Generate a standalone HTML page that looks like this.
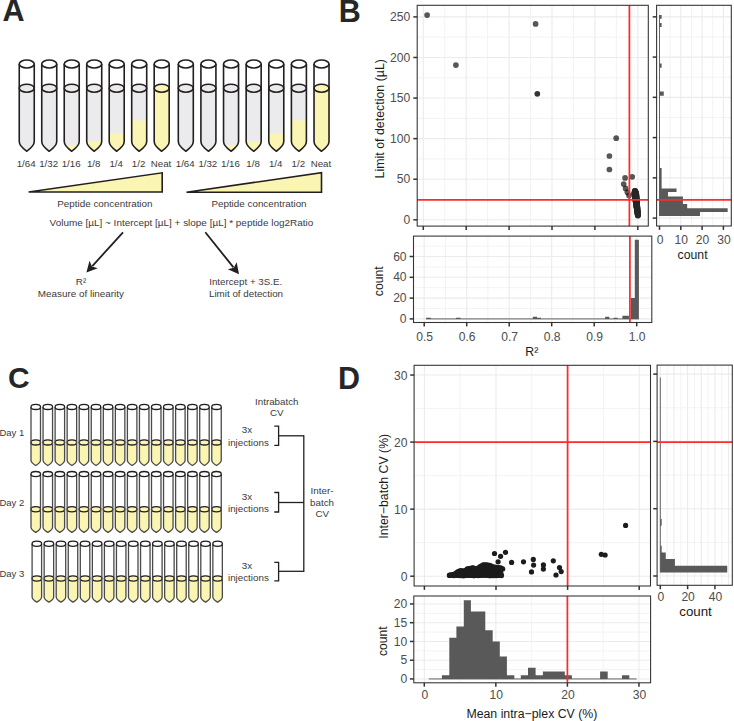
<!DOCTYPE html>
<html><head><meta charset="utf-8"><style>
html,body{margin:0;padding:0;background:#fff;overflow:hidden;}
svg{display:block;font-family:"Liberation Sans", sans-serif;}
</style></head><body>
<svg width="734" height="721" viewBox="0 0 734 721">
<text x="2.40" y="21.20" font-size="30.5" fill="#262626" text-anchor="start" font-weight="bold" >A</text>
<text x="338.80" y="22.20" font-size="30.5" fill="#262626" text-anchor="start" font-weight="bold" >B</text>
<text x="7.90" y="388.10" font-size="30.0" fill="#262626" text-anchor="start" font-weight="bold" >C</text>
<text x="338.10" y="388.50" font-size="30.5" fill="#262626" text-anchor="start" font-weight="bold" >D</text>
<path d="M19.25,64.00 L19.25,141.60 C19.25,145.97 23.38,148.88 26.75,151.30 C30.12,148.88 34.25,145.97 34.25,141.60 L34.25,64.00 Z" fill="#FFFFFF"/>
<path d="M19.25,88.20 L19.25,141.60 C19.25,145.97 23.38,148.88 26.75,151.30 C30.12,148.88 34.25,145.97 34.25,141.60 L34.25,88.20 Z" fill="#EBEBEE"/>
<ellipse cx="26.75" cy="88.20" rx="7.50" ry="4.00" fill="#EBEBEE" stroke="#231F20" stroke-width="1.6"/>
<path d="M19.25,64.00 L19.25,141.60 C19.25,145.97 23.38,148.88 26.75,151.30 C30.12,148.88 34.25,145.97 34.25,141.60 L34.25,64.00" fill="none" stroke="#231F20" stroke-width="1.6" stroke-linejoin="round"/>
<ellipse cx="26.75" cy="64.00" rx="7.50" ry="4.00" fill="#FFFFFF" stroke="#231F20" stroke-width="1.6"/>
<text x="26.15" y="166.80" font-size="9.7" fill="#3a3a3a" text-anchor="middle" font-weight="normal" >1/64</text>
<path d="M41.74,64.00 L41.74,141.60 C41.74,145.97 45.86,148.88 49.24,151.30 C52.61,148.88 56.74,145.97 56.74,141.60 L56.74,64.00 Z" fill="#FFFFFF"/>
<path d="M41.74,88.20 L41.74,141.60 C41.74,145.97 45.86,148.88 49.24,151.30 C52.61,148.88 56.74,145.97 56.74,141.60 L56.74,88.20 Z" fill="#EBEBEE"/>
<clipPath id="c12"><path d="M41.74,88.20 L41.74,141.60 C41.74,145.97 45.86,148.88 49.24,151.30 C52.61,148.88 56.74,145.97 56.74,141.60 L56.74,88.20 Z"/></clipPath>
<path d="M40.74,147.00 Q49.24,150.20 57.74,147.00 L57.74,152.30 L40.74,152.30 Z" fill="#FAF5B2" clip-path="url(#c12)"/>
<ellipse cx="49.24" cy="88.20" rx="7.50" ry="4.00" fill="#EBEBEE" stroke="#231F20" stroke-width="1.6"/>
<path d="M41.74,64.00 L41.74,141.60 C41.74,145.97 45.86,148.88 49.24,151.30 C52.61,148.88 56.74,145.97 56.74,141.60 L56.74,64.00" fill="none" stroke="#231F20" stroke-width="1.6" stroke-linejoin="round"/>
<ellipse cx="49.24" cy="64.00" rx="7.50" ry="4.00" fill="#FFFFFF" stroke="#231F20" stroke-width="1.6"/>
<text x="48.64" y="166.80" font-size="9.7" fill="#3a3a3a" text-anchor="middle" font-weight="normal" >1/32</text>
<path d="M64.23,64.00 L64.23,141.60 C64.23,145.97 68.35,148.88 71.73,151.30 C75.10,148.88 79.23,145.97 79.23,141.60 L79.23,64.00 Z" fill="#FFFFFF"/>
<path d="M64.23,88.20 L64.23,141.60 C64.23,145.97 68.35,148.88 71.73,151.30 C75.10,148.88 79.23,145.97 79.23,141.60 L79.23,88.20 Z" fill="#EBEBEE"/>
<clipPath id="c20"><path d="M64.23,88.20 L64.23,141.60 C64.23,145.97 68.35,148.88 71.73,151.30 C75.10,148.88 79.23,145.97 79.23,141.60 L79.23,88.20 Z"/></clipPath>
<path d="M63.23,143.60 Q71.73,146.80 80.23,143.60 L80.23,152.30 L63.23,152.30 Z" fill="#FAF5B2" clip-path="url(#c20)"/>
<ellipse cx="71.73" cy="88.20" rx="7.50" ry="4.00" fill="#EBEBEE" stroke="#231F20" stroke-width="1.6"/>
<path d="M64.23,64.00 L64.23,141.60 C64.23,145.97 68.35,148.88 71.73,151.30 C75.10,148.88 79.23,145.97 79.23,141.60 L79.23,64.00" fill="none" stroke="#231F20" stroke-width="1.6" stroke-linejoin="round"/>
<ellipse cx="71.73" cy="64.00" rx="7.50" ry="4.00" fill="#FFFFFF" stroke="#231F20" stroke-width="1.6"/>
<text x="71.13" y="166.80" font-size="9.7" fill="#3a3a3a" text-anchor="middle" font-weight="normal" >1/16</text>
<path d="M86.72,64.00 L86.72,141.60 C86.72,145.97 90.84,148.88 94.22,151.30 C97.59,148.88 101.72,145.97 101.72,141.60 L101.72,64.00 Z" fill="#FFFFFF"/>
<path d="M86.72,88.20 L86.72,141.60 C86.72,145.97 90.84,148.88 94.22,151.30 C97.59,148.88 101.72,145.97 101.72,141.60 L101.72,88.20 Z" fill="#EBEBEE"/>
<clipPath id="c28"><path d="M86.72,88.20 L86.72,141.60 C86.72,145.97 90.84,148.88 94.22,151.30 C97.59,148.88 101.72,145.97 101.72,141.60 L101.72,88.20 Z"/></clipPath>
<path d="M85.72,140.20 Q94.22,143.40 102.72,140.20 L102.72,152.30 L85.72,152.30 Z" fill="#FAF5B2" clip-path="url(#c28)"/>
<ellipse cx="94.22" cy="88.20" rx="7.50" ry="4.00" fill="#EBEBEE" stroke="#231F20" stroke-width="1.6"/>
<path d="M86.72,64.00 L86.72,141.60 C86.72,145.97 90.84,148.88 94.22,151.30 C97.59,148.88 101.72,145.97 101.72,141.60 L101.72,64.00" fill="none" stroke="#231F20" stroke-width="1.6" stroke-linejoin="round"/>
<ellipse cx="94.22" cy="64.00" rx="7.50" ry="4.00" fill="#FFFFFF" stroke="#231F20" stroke-width="1.6"/>
<text x="93.62" y="166.80" font-size="9.7" fill="#3a3a3a" text-anchor="middle" font-weight="normal" >1/8</text>
<path d="M109.21,64.00 L109.21,141.60 C109.21,145.97 113.33,148.88 116.71,151.30 C120.08,148.88 124.21,145.97 124.21,141.60 L124.21,64.00 Z" fill="#FFFFFF"/>
<path d="M109.21,88.20 L109.21,141.60 C109.21,145.97 113.33,148.88 116.71,151.30 C120.08,148.88 124.21,145.97 124.21,141.60 L124.21,88.20 Z" fill="#EBEBEE"/>
<clipPath id="c36"><path d="M109.21,88.20 L109.21,141.60 C109.21,145.97 113.33,148.88 116.71,151.30 C120.08,148.88 124.21,145.97 124.21,141.60 L124.21,88.20 Z"/></clipPath>
<path d="M108.21,132.40 Q116.71,135.60 125.21,132.40 L125.21,152.30 L108.21,152.30 Z" fill="#FAF5B2" clip-path="url(#c36)"/>
<ellipse cx="116.71" cy="88.20" rx="7.50" ry="4.00" fill="#EBEBEE" stroke="#231F20" stroke-width="1.6"/>
<path d="M109.21,64.00 L109.21,141.60 C109.21,145.97 113.33,148.88 116.71,151.30 C120.08,148.88 124.21,145.97 124.21,141.60 L124.21,64.00" fill="none" stroke="#231F20" stroke-width="1.6" stroke-linejoin="round"/>
<ellipse cx="116.71" cy="64.00" rx="7.50" ry="4.00" fill="#FFFFFF" stroke="#231F20" stroke-width="1.6"/>
<text x="116.11" y="166.80" font-size="9.7" fill="#3a3a3a" text-anchor="middle" font-weight="normal" >1/4</text>
<path d="M131.70,64.00 L131.70,141.60 C131.70,145.97 135.82,148.88 139.20,151.30 C142.57,148.88 146.70,145.97 146.70,141.60 L146.70,64.00 Z" fill="#FFFFFF"/>
<path d="M131.70,88.20 L131.70,141.60 C131.70,145.97 135.82,148.88 139.20,151.30 C142.57,148.88 146.70,145.97 146.70,141.60 L146.70,88.20 Z" fill="#EBEBEE"/>
<clipPath id="c44"><path d="M131.70,88.20 L131.70,141.60 C131.70,145.97 135.82,148.88 139.20,151.30 C142.57,148.88 146.70,145.97 146.70,141.60 L146.70,88.20 Z"/></clipPath>
<path d="M130.70,119.20 Q139.20,122.40 147.70,119.20 L147.70,152.30 L130.70,152.30 Z" fill="#FAF5B2" clip-path="url(#c44)"/>
<ellipse cx="139.20" cy="88.20" rx="7.50" ry="4.00" fill="#EBEBEE" stroke="#231F20" stroke-width="1.6"/>
<path d="M131.70,64.00 L131.70,141.60 C131.70,145.97 135.82,148.88 139.20,151.30 C142.57,148.88 146.70,145.97 146.70,141.60 L146.70,64.00" fill="none" stroke="#231F20" stroke-width="1.6" stroke-linejoin="round"/>
<ellipse cx="139.20" cy="64.00" rx="7.50" ry="4.00" fill="#FFFFFF" stroke="#231F20" stroke-width="1.6"/>
<text x="138.60" y="166.80" font-size="9.7" fill="#3a3a3a" text-anchor="middle" font-weight="normal" >1/2</text>
<path d="M154.19,64.00 L154.19,141.60 C154.19,145.97 158.31,148.88 161.69,151.30 C165.06,148.88 169.19,145.97 169.19,141.60 L169.19,64.00 Z" fill="#FFFFFF"/>
<path d="M154.19,88.20 L154.19,141.60 C154.19,145.97 158.31,148.88 161.69,151.30 C165.06,148.88 169.19,145.97 169.19,141.60 L169.19,88.20 Z" fill="#FAF5B2"/>
<ellipse cx="161.69" cy="88.20" rx="7.50" ry="4.00" fill="#FAF5B2" stroke="#231F20" stroke-width="1.6"/>
<path d="M154.19,64.00 L154.19,141.60 C154.19,145.97 158.31,148.88 161.69,151.30 C165.06,148.88 169.19,145.97 169.19,141.60 L169.19,64.00" fill="none" stroke="#231F20" stroke-width="1.6" stroke-linejoin="round"/>
<ellipse cx="161.69" cy="64.00" rx="7.50" ry="4.00" fill="#FFFFFF" stroke="#231F20" stroke-width="1.6"/>
<text x="161.09" y="166.80" font-size="9.7" fill="#3a3a3a" text-anchor="middle" font-weight="normal" >Neat</text>
<path d="M178.30,64.00 L178.30,141.60 C178.30,145.97 182.43,148.88 185.80,151.30 C189.18,148.88 193.30,145.97 193.30,141.60 L193.30,64.00 Z" fill="#FFFFFF"/>
<path d="M178.30,88.20 L178.30,141.60 C178.30,145.97 182.43,148.88 185.80,151.30 C189.18,148.88 193.30,145.97 193.30,141.60 L193.30,88.20 Z" fill="#EBEBEE"/>
<ellipse cx="185.80" cy="88.20" rx="7.50" ry="4.00" fill="#EBEBEE" stroke="#231F20" stroke-width="1.6"/>
<path d="M178.30,64.00 L178.30,141.60 C178.30,145.97 182.43,148.88 185.80,151.30 C189.18,148.88 193.30,145.97 193.30,141.60 L193.30,64.00" fill="none" stroke="#231F20" stroke-width="1.6" stroke-linejoin="round"/>
<ellipse cx="185.80" cy="64.00" rx="7.50" ry="4.00" fill="#FFFFFF" stroke="#231F20" stroke-width="1.6"/>
<text x="185.20" y="166.80" font-size="9.7" fill="#3a3a3a" text-anchor="middle" font-weight="normal" >1/64</text>
<path d="M200.92,64.00 L200.92,141.60 C200.92,145.97 205.05,148.88 208.42,151.30 C211.80,148.88 215.92,145.97 215.92,141.60 L215.92,64.00 Z" fill="#FFFFFF"/>
<path d="M200.92,88.20 L200.92,141.60 C200.92,145.97 205.05,148.88 208.42,151.30 C211.80,148.88 215.92,145.97 215.92,141.60 L215.92,88.20 Z" fill="#EBEBEE"/>
<clipPath id="c64"><path d="M200.92,88.20 L200.92,141.60 C200.92,145.97 205.05,148.88 208.42,151.30 C211.80,148.88 215.92,145.97 215.92,141.60 L215.92,88.20 Z"/></clipPath>
<path d="M199.92,147.00 Q208.42,150.20 216.92,147.00 L216.92,152.30 L199.92,152.30 Z" fill="#FAF5B2" clip-path="url(#c64)"/>
<ellipse cx="208.42" cy="88.20" rx="7.50" ry="4.00" fill="#EBEBEE" stroke="#231F20" stroke-width="1.6"/>
<path d="M200.92,64.00 L200.92,141.60 C200.92,145.97 205.05,148.88 208.42,151.30 C211.80,148.88 215.92,145.97 215.92,141.60 L215.92,64.00" fill="none" stroke="#231F20" stroke-width="1.6" stroke-linejoin="round"/>
<ellipse cx="208.42" cy="64.00" rx="7.50" ry="4.00" fill="#FFFFFF" stroke="#231F20" stroke-width="1.6"/>
<text x="207.82" y="166.80" font-size="9.7" fill="#3a3a3a" text-anchor="middle" font-weight="normal" >1/32</text>
<path d="M223.54,64.00 L223.54,141.60 C223.54,145.97 227.67,148.88 231.04,151.30 C234.42,148.88 238.54,145.97 238.54,141.60 L238.54,64.00 Z" fill="#FFFFFF"/>
<path d="M223.54,88.20 L223.54,141.60 C223.54,145.97 227.67,148.88 231.04,151.30 C234.42,148.88 238.54,145.97 238.54,141.60 L238.54,88.20 Z" fill="#EBEBEE"/>
<clipPath id="c72"><path d="M223.54,88.20 L223.54,141.60 C223.54,145.97 227.67,148.88 231.04,151.30 C234.42,148.88 238.54,145.97 238.54,141.60 L238.54,88.20 Z"/></clipPath>
<path d="M222.54,143.60 Q231.04,146.80 239.54,143.60 L239.54,152.30 L222.54,152.30 Z" fill="#FAF5B2" clip-path="url(#c72)"/>
<ellipse cx="231.04" cy="88.20" rx="7.50" ry="4.00" fill="#EBEBEE" stroke="#231F20" stroke-width="1.6"/>
<path d="M223.54,64.00 L223.54,141.60 C223.54,145.97 227.67,148.88 231.04,151.30 C234.42,148.88 238.54,145.97 238.54,141.60 L238.54,64.00" fill="none" stroke="#231F20" stroke-width="1.6" stroke-linejoin="round"/>
<ellipse cx="231.04" cy="64.00" rx="7.50" ry="4.00" fill="#FFFFFF" stroke="#231F20" stroke-width="1.6"/>
<text x="230.44" y="166.80" font-size="9.7" fill="#3a3a3a" text-anchor="middle" font-weight="normal" >1/16</text>
<path d="M246.16,64.00 L246.16,141.60 C246.16,145.97 250.29,148.88 253.66,151.30 C257.04,148.88 261.16,145.97 261.16,141.60 L261.16,64.00 Z" fill="#FFFFFF"/>
<path d="M246.16,88.20 L246.16,141.60 C246.16,145.97 250.29,148.88 253.66,151.30 C257.04,148.88 261.16,145.97 261.16,141.60 L261.16,88.20 Z" fill="#EBEBEE"/>
<clipPath id="c80"><path d="M246.16,88.20 L246.16,141.60 C246.16,145.97 250.29,148.88 253.66,151.30 C257.04,148.88 261.16,145.97 261.16,141.60 L261.16,88.20 Z"/></clipPath>
<path d="M245.16,140.20 Q253.66,143.40 262.16,140.20 L262.16,152.30 L245.16,152.30 Z" fill="#FAF5B2" clip-path="url(#c80)"/>
<ellipse cx="253.66" cy="88.20" rx="7.50" ry="4.00" fill="#EBEBEE" stroke="#231F20" stroke-width="1.6"/>
<path d="M246.16,64.00 L246.16,141.60 C246.16,145.97 250.29,148.88 253.66,151.30 C257.04,148.88 261.16,145.97 261.16,141.60 L261.16,64.00" fill="none" stroke="#231F20" stroke-width="1.6" stroke-linejoin="round"/>
<ellipse cx="253.66" cy="64.00" rx="7.50" ry="4.00" fill="#FFFFFF" stroke="#231F20" stroke-width="1.6"/>
<text x="253.06" y="166.80" font-size="9.7" fill="#3a3a3a" text-anchor="middle" font-weight="normal" >1/8</text>
<path d="M268.78,64.00 L268.78,141.60 C268.78,145.97 272.91,148.88 276.28,151.30 C279.66,148.88 283.78,145.97 283.78,141.60 L283.78,64.00 Z" fill="#FFFFFF"/>
<path d="M268.78,88.20 L268.78,141.60 C268.78,145.97 272.91,148.88 276.28,151.30 C279.66,148.88 283.78,145.97 283.78,141.60 L283.78,88.20 Z" fill="#EBEBEE"/>
<clipPath id="c88"><path d="M268.78,88.20 L268.78,141.60 C268.78,145.97 272.91,148.88 276.28,151.30 C279.66,148.88 283.78,145.97 283.78,141.60 L283.78,88.20 Z"/></clipPath>
<path d="M267.78,132.40 Q276.28,135.60 284.78,132.40 L284.78,152.30 L267.78,152.30 Z" fill="#FAF5B2" clip-path="url(#c88)"/>
<ellipse cx="276.28" cy="88.20" rx="7.50" ry="4.00" fill="#EBEBEE" stroke="#231F20" stroke-width="1.6"/>
<path d="M268.78,64.00 L268.78,141.60 C268.78,145.97 272.91,148.88 276.28,151.30 C279.66,148.88 283.78,145.97 283.78,141.60 L283.78,64.00" fill="none" stroke="#231F20" stroke-width="1.6" stroke-linejoin="round"/>
<ellipse cx="276.28" cy="64.00" rx="7.50" ry="4.00" fill="#FFFFFF" stroke="#231F20" stroke-width="1.6"/>
<text x="275.68" y="166.80" font-size="9.7" fill="#3a3a3a" text-anchor="middle" font-weight="normal" >1/4</text>
<path d="M291.40,64.00 L291.40,141.60 C291.40,145.97 295.53,148.88 298.90,151.30 C302.28,148.88 306.40,145.97 306.40,141.60 L306.40,64.00 Z" fill="#FFFFFF"/>
<path d="M291.40,88.20 L291.40,141.60 C291.40,145.97 295.53,148.88 298.90,151.30 C302.28,148.88 306.40,145.97 306.40,141.60 L306.40,88.20 Z" fill="#EBEBEE"/>
<clipPath id="c96"><path d="M291.40,88.20 L291.40,141.60 C291.40,145.97 295.53,148.88 298.90,151.30 C302.28,148.88 306.40,145.97 306.40,141.60 L306.40,88.20 Z"/></clipPath>
<path d="M290.40,119.20 Q298.90,122.40 307.40,119.20 L307.40,152.30 L290.40,152.30 Z" fill="#FAF5B2" clip-path="url(#c96)"/>
<ellipse cx="298.90" cy="88.20" rx="7.50" ry="4.00" fill="#EBEBEE" stroke="#231F20" stroke-width="1.6"/>
<path d="M291.40,64.00 L291.40,141.60 C291.40,145.97 295.53,148.88 298.90,151.30 C302.28,148.88 306.40,145.97 306.40,141.60 L306.40,64.00" fill="none" stroke="#231F20" stroke-width="1.6" stroke-linejoin="round"/>
<ellipse cx="298.90" cy="64.00" rx="7.50" ry="4.00" fill="#FFFFFF" stroke="#231F20" stroke-width="1.6"/>
<text x="298.30" y="166.80" font-size="9.7" fill="#3a3a3a" text-anchor="middle" font-weight="normal" >1/2</text>
<path d="M314.02,64.00 L314.02,141.60 C314.02,145.97 318.14,148.88 321.52,151.30 C324.89,148.88 329.02,145.97 329.02,141.60 L329.02,64.00 Z" fill="#FFFFFF"/>
<path d="M314.02,88.20 L314.02,141.60 C314.02,145.97 318.14,148.88 321.52,151.30 C324.89,148.88 329.02,145.97 329.02,141.60 L329.02,88.20 Z" fill="#FAF5B2"/>
<ellipse cx="321.52" cy="88.20" rx="7.50" ry="4.00" fill="#FAF5B2" stroke="#231F20" stroke-width="1.6"/>
<path d="M314.02,64.00 L314.02,141.60 C314.02,145.97 318.14,148.88 321.52,151.30 C324.89,148.88 329.02,145.97 329.02,141.60 L329.02,64.00" fill="none" stroke="#231F20" stroke-width="1.6" stroke-linejoin="round"/>
<ellipse cx="321.52" cy="64.00" rx="7.50" ry="4.00" fill="#FFFFFF" stroke="#231F20" stroke-width="1.6"/>
<text x="320.92" y="166.80" font-size="9.7" fill="#3a3a3a" text-anchor="middle" font-weight="normal" >Neat</text>
<path d="M28.6,192.0 L162.2,172.8 L162.2,192.0 Z" fill="#FAF5B2" stroke="#231F20" stroke-width="1.6" stroke-linejoin="miter"/>
<path d="M186.5,192.3 L321.5,172.6 L321.5,192.3 Z" fill="#FAF5B2" stroke="#231F20" stroke-width="1.6" stroke-linejoin="miter"/>
<text x="104.90" y="207.30" font-size="9.85" fill="#3a3a3a" text-anchor="middle" font-weight="normal" >Peptide concentration</text>
<text x="259.00" y="207.30" font-size="9.85" fill="#3a3a3a" text-anchor="middle" font-weight="normal" >Peptide concentration</text>
<text x="181.40" y="225.50" font-size="9.95" fill="#3a3a3a" text-anchor="middle" font-weight="normal" >Volume [µL] ~ Intercept [µL] + slope [µL] * peptide log2Ratio</text>
<line x1="123.00" y1="232.30" x2="92.32" y2="266.09" stroke="#231F20" stroke-width="1.8" />
<path d="M86.40,272.60 L89.52,260.84 L91.98,266.46 L97.81,268.37 Z" fill="#231F20"/>
<line x1="205.30" y1="232.30" x2="233.48" y2="267.34" stroke="#231F20" stroke-width="1.8" />
<path d="M239.00,274.20 L227.79,269.36 L233.80,267.73 L236.67,262.21 Z" fill="#231F20"/>
<text x="81.00" y="284.90" font-size="9.9" fill="#3a3a3a" text-anchor="middle" font-weight="normal" >R²</text>
<text x="80.90" y="296.70" font-size="9.9" fill="#3a3a3a" text-anchor="middle" font-weight="normal" >Measure of linearity</text>
<text x="245.70" y="285.30" font-size="9.75" fill="#3a3a3a" text-anchor="middle" font-weight="normal" >Intercept + 3S.E.</text>
<text x="246.00" y="297.00" font-size="9.8" fill="#3a3a3a" text-anchor="middle" font-weight="normal" >Limit of detection</text>
<path d="M31.00,406.90 L31.00,460.20 C31.00,462.58 33.61,464.18 35.75,465.50 C37.89,464.18 40.50,462.58 40.50,460.20 L40.50,406.90 Z" fill="#FFFFFF"/>
<path d="M31.00,442.40 L31.00,460.20 C31.00,462.58 33.61,464.18 35.75,465.50 C37.89,464.18 40.50,462.58 40.50,460.20 L40.50,442.40 Z" fill="#FAF5B2"/>
<ellipse cx="35.75" cy="442.40" rx="4.75" ry="2.60" fill="#FAF5B2" stroke="#231F20" stroke-width="1.3"/>
<path d="M31.00,406.90 L31.00,460.20 C31.00,462.58 33.61,464.18 35.75,465.50 C37.89,464.18 40.50,462.58 40.50,460.20 L40.50,406.90" fill="none" stroke="#4a4a4a" stroke-width="1.3" stroke-linejoin="round"/>
<ellipse cx="35.75" cy="406.90" rx="4.75" ry="2.60" fill="#FFFFFF" stroke="#231F20" stroke-width="1.3"/>
<path d="M43.05,406.90 L43.05,460.20 C43.05,462.58 45.66,464.18 47.80,465.50 C49.94,464.18 52.55,462.58 52.55,460.20 L52.55,406.90 Z" fill="#FFFFFF"/>
<path d="M43.05,442.40 L43.05,460.20 C43.05,462.58 45.66,464.18 47.80,465.50 C49.94,464.18 52.55,462.58 52.55,460.20 L52.55,442.40 Z" fill="#FAF5B2"/>
<ellipse cx="47.80" cy="442.40" rx="4.75" ry="2.60" fill="#FAF5B2" stroke="#231F20" stroke-width="1.3"/>
<path d="M43.05,406.90 L43.05,460.20 C43.05,462.58 45.66,464.18 47.80,465.50 C49.94,464.18 52.55,462.58 52.55,460.20 L52.55,406.90" fill="none" stroke="#4a4a4a" stroke-width="1.3" stroke-linejoin="round"/>
<ellipse cx="47.80" cy="406.90" rx="4.75" ry="2.60" fill="#FFFFFF" stroke="#231F20" stroke-width="1.3"/>
<path d="M55.10,406.90 L55.10,460.20 C55.10,462.58 57.71,464.18 59.85,465.50 C61.99,464.18 64.60,462.58 64.60,460.20 L64.60,406.90 Z" fill="#FFFFFF"/>
<path d="M55.10,442.40 L55.10,460.20 C55.10,462.58 57.71,464.18 59.85,465.50 C61.99,464.18 64.60,462.58 64.60,460.20 L64.60,442.40 Z" fill="#FAF5B2"/>
<ellipse cx="59.85" cy="442.40" rx="4.75" ry="2.60" fill="#FAF5B2" stroke="#231F20" stroke-width="1.3"/>
<path d="M55.10,406.90 L55.10,460.20 C55.10,462.58 57.71,464.18 59.85,465.50 C61.99,464.18 64.60,462.58 64.60,460.20 L64.60,406.90" fill="none" stroke="#4a4a4a" stroke-width="1.3" stroke-linejoin="round"/>
<ellipse cx="59.85" cy="406.90" rx="4.75" ry="2.60" fill="#FFFFFF" stroke="#231F20" stroke-width="1.3"/>
<path d="M67.15,406.90 L67.15,460.20 C67.15,462.58 69.76,464.18 71.90,465.50 C74.04,464.18 76.65,462.58 76.65,460.20 L76.65,406.90 Z" fill="#FFFFFF"/>
<path d="M67.15,442.40 L67.15,460.20 C67.15,462.58 69.76,464.18 71.90,465.50 C74.04,464.18 76.65,462.58 76.65,460.20 L76.65,442.40 Z" fill="#FAF5B2"/>
<ellipse cx="71.90" cy="442.40" rx="4.75" ry="2.60" fill="#FAF5B2" stroke="#231F20" stroke-width="1.3"/>
<path d="M67.15,406.90 L67.15,460.20 C67.15,462.58 69.76,464.18 71.90,465.50 C74.04,464.18 76.65,462.58 76.65,460.20 L76.65,406.90" fill="none" stroke="#4a4a4a" stroke-width="1.3" stroke-linejoin="round"/>
<ellipse cx="71.90" cy="406.90" rx="4.75" ry="2.60" fill="#FFFFFF" stroke="#231F20" stroke-width="1.3"/>
<path d="M79.20,406.90 L79.20,460.20 C79.20,462.58 81.81,464.18 83.95,465.50 C86.09,464.18 88.70,462.58 88.70,460.20 L88.70,406.90 Z" fill="#FFFFFF"/>
<path d="M79.20,442.40 L79.20,460.20 C79.20,462.58 81.81,464.18 83.95,465.50 C86.09,464.18 88.70,462.58 88.70,460.20 L88.70,442.40 Z" fill="#FAF5B2"/>
<ellipse cx="83.95" cy="442.40" rx="4.75" ry="2.60" fill="#FAF5B2" stroke="#231F20" stroke-width="1.3"/>
<path d="M79.20,406.90 L79.20,460.20 C79.20,462.58 81.81,464.18 83.95,465.50 C86.09,464.18 88.70,462.58 88.70,460.20 L88.70,406.90" fill="none" stroke="#4a4a4a" stroke-width="1.3" stroke-linejoin="round"/>
<ellipse cx="83.95" cy="406.90" rx="4.75" ry="2.60" fill="#FFFFFF" stroke="#231F20" stroke-width="1.3"/>
<path d="M91.25,406.90 L91.25,460.20 C91.25,462.58 93.86,464.18 96.00,465.50 C98.14,464.18 100.75,462.58 100.75,460.20 L100.75,406.90 Z" fill="#FFFFFF"/>
<path d="M91.25,442.40 L91.25,460.20 C91.25,462.58 93.86,464.18 96.00,465.50 C98.14,464.18 100.75,462.58 100.75,460.20 L100.75,442.40 Z" fill="#FAF5B2"/>
<ellipse cx="96.00" cy="442.40" rx="4.75" ry="2.60" fill="#FAF5B2" stroke="#231F20" stroke-width="1.3"/>
<path d="M91.25,406.90 L91.25,460.20 C91.25,462.58 93.86,464.18 96.00,465.50 C98.14,464.18 100.75,462.58 100.75,460.20 L100.75,406.90" fill="none" stroke="#4a4a4a" stroke-width="1.3" stroke-linejoin="round"/>
<ellipse cx="96.00" cy="406.90" rx="4.75" ry="2.60" fill="#FFFFFF" stroke="#231F20" stroke-width="1.3"/>
<path d="M103.30,406.90 L103.30,460.20 C103.30,462.58 105.91,464.18 108.05,465.50 C110.19,464.18 112.80,462.58 112.80,460.20 L112.80,406.90 Z" fill="#FFFFFF"/>
<path d="M103.30,442.40 L103.30,460.20 C103.30,462.58 105.91,464.18 108.05,465.50 C110.19,464.18 112.80,462.58 112.80,460.20 L112.80,442.40 Z" fill="#FAF5B2"/>
<ellipse cx="108.05" cy="442.40" rx="4.75" ry="2.60" fill="#FAF5B2" stroke="#231F20" stroke-width="1.3"/>
<path d="M103.30,406.90 L103.30,460.20 C103.30,462.58 105.91,464.18 108.05,465.50 C110.19,464.18 112.80,462.58 112.80,460.20 L112.80,406.90" fill="none" stroke="#4a4a4a" stroke-width="1.3" stroke-linejoin="round"/>
<ellipse cx="108.05" cy="406.90" rx="4.75" ry="2.60" fill="#FFFFFF" stroke="#231F20" stroke-width="1.3"/>
<path d="M115.35,406.90 L115.35,460.20 C115.35,462.58 117.96,464.18 120.10,465.50 C122.24,464.18 124.85,462.58 124.85,460.20 L124.85,406.90 Z" fill="#FFFFFF"/>
<path d="M115.35,442.40 L115.35,460.20 C115.35,462.58 117.96,464.18 120.10,465.50 C122.24,464.18 124.85,462.58 124.85,460.20 L124.85,442.40 Z" fill="#FAF5B2"/>
<ellipse cx="120.10" cy="442.40" rx="4.75" ry="2.60" fill="#FAF5B2" stroke="#231F20" stroke-width="1.3"/>
<path d="M115.35,406.90 L115.35,460.20 C115.35,462.58 117.96,464.18 120.10,465.50 C122.24,464.18 124.85,462.58 124.85,460.20 L124.85,406.90" fill="none" stroke="#4a4a4a" stroke-width="1.3" stroke-linejoin="round"/>
<ellipse cx="120.10" cy="406.90" rx="4.75" ry="2.60" fill="#FFFFFF" stroke="#231F20" stroke-width="1.3"/>
<path d="M127.40,406.90 L127.40,460.20 C127.40,462.58 130.01,464.18 132.15,465.50 C134.29,464.18 136.90,462.58 136.90,460.20 L136.90,406.90 Z" fill="#FFFFFF"/>
<path d="M127.40,442.40 L127.40,460.20 C127.40,462.58 130.01,464.18 132.15,465.50 C134.29,464.18 136.90,462.58 136.90,460.20 L136.90,442.40 Z" fill="#FAF5B2"/>
<ellipse cx="132.15" cy="442.40" rx="4.75" ry="2.60" fill="#FAF5B2" stroke="#231F20" stroke-width="1.3"/>
<path d="M127.40,406.90 L127.40,460.20 C127.40,462.58 130.01,464.18 132.15,465.50 C134.29,464.18 136.90,462.58 136.90,460.20 L136.90,406.90" fill="none" stroke="#4a4a4a" stroke-width="1.3" stroke-linejoin="round"/>
<ellipse cx="132.15" cy="406.90" rx="4.75" ry="2.60" fill="#FFFFFF" stroke="#231F20" stroke-width="1.3"/>
<path d="M139.45,406.90 L139.45,460.20 C139.45,462.58 142.06,464.18 144.20,465.50 C146.34,464.18 148.95,462.58 148.95,460.20 L148.95,406.90 Z" fill="#FFFFFF"/>
<path d="M139.45,442.40 L139.45,460.20 C139.45,462.58 142.06,464.18 144.20,465.50 C146.34,464.18 148.95,462.58 148.95,460.20 L148.95,442.40 Z" fill="#FAF5B2"/>
<ellipse cx="144.20" cy="442.40" rx="4.75" ry="2.60" fill="#FAF5B2" stroke="#231F20" stroke-width="1.3"/>
<path d="M139.45,406.90 L139.45,460.20 C139.45,462.58 142.06,464.18 144.20,465.50 C146.34,464.18 148.95,462.58 148.95,460.20 L148.95,406.90" fill="none" stroke="#4a4a4a" stroke-width="1.3" stroke-linejoin="round"/>
<ellipse cx="144.20" cy="406.90" rx="4.75" ry="2.60" fill="#FFFFFF" stroke="#231F20" stroke-width="1.3"/>
<path d="M151.50,406.90 L151.50,460.20 C151.50,462.58 154.11,464.18 156.25,465.50 C158.39,464.18 161.00,462.58 161.00,460.20 L161.00,406.90 Z" fill="#FFFFFF"/>
<path d="M151.50,442.40 L151.50,460.20 C151.50,462.58 154.11,464.18 156.25,465.50 C158.39,464.18 161.00,462.58 161.00,460.20 L161.00,442.40 Z" fill="#FAF5B2"/>
<ellipse cx="156.25" cy="442.40" rx="4.75" ry="2.60" fill="#FAF5B2" stroke="#231F20" stroke-width="1.3"/>
<path d="M151.50,406.90 L151.50,460.20 C151.50,462.58 154.11,464.18 156.25,465.50 C158.39,464.18 161.00,462.58 161.00,460.20 L161.00,406.90" fill="none" stroke="#4a4a4a" stroke-width="1.3" stroke-linejoin="round"/>
<ellipse cx="156.25" cy="406.90" rx="4.75" ry="2.60" fill="#FFFFFF" stroke="#231F20" stroke-width="1.3"/>
<path d="M163.55,406.90 L163.55,460.20 C163.55,462.58 166.16,464.18 168.30,465.50 C170.44,464.18 173.05,462.58 173.05,460.20 L173.05,406.90 Z" fill="#FFFFFF"/>
<path d="M163.55,442.40 L163.55,460.20 C163.55,462.58 166.16,464.18 168.30,465.50 C170.44,464.18 173.05,462.58 173.05,460.20 L173.05,442.40 Z" fill="#FAF5B2"/>
<ellipse cx="168.30" cy="442.40" rx="4.75" ry="2.60" fill="#FAF5B2" stroke="#231F20" stroke-width="1.3"/>
<path d="M163.55,406.90 L163.55,460.20 C163.55,462.58 166.16,464.18 168.30,465.50 C170.44,464.18 173.05,462.58 173.05,460.20 L173.05,406.90" fill="none" stroke="#4a4a4a" stroke-width="1.3" stroke-linejoin="round"/>
<ellipse cx="168.30" cy="406.90" rx="4.75" ry="2.60" fill="#FFFFFF" stroke="#231F20" stroke-width="1.3"/>
<path d="M175.60,406.90 L175.60,460.20 C175.60,462.58 178.21,464.18 180.35,465.50 C182.49,464.18 185.10,462.58 185.10,460.20 L185.10,406.90 Z" fill="#FFFFFF"/>
<path d="M175.60,442.40 L175.60,460.20 C175.60,462.58 178.21,464.18 180.35,465.50 C182.49,464.18 185.10,462.58 185.10,460.20 L185.10,442.40 Z" fill="#FAF5B2"/>
<ellipse cx="180.35" cy="442.40" rx="4.75" ry="2.60" fill="#FAF5B2" stroke="#231F20" stroke-width="1.3"/>
<path d="M175.60,406.90 L175.60,460.20 C175.60,462.58 178.21,464.18 180.35,465.50 C182.49,464.18 185.10,462.58 185.10,460.20 L185.10,406.90" fill="none" stroke="#4a4a4a" stroke-width="1.3" stroke-linejoin="round"/>
<ellipse cx="180.35" cy="406.90" rx="4.75" ry="2.60" fill="#FFFFFF" stroke="#231F20" stroke-width="1.3"/>
<path d="M187.65,406.90 L187.65,460.20 C187.65,462.58 190.26,464.18 192.40,465.50 C194.54,464.18 197.15,462.58 197.15,460.20 L197.15,406.90 Z" fill="#FFFFFF"/>
<path d="M187.65,442.40 L187.65,460.20 C187.65,462.58 190.26,464.18 192.40,465.50 C194.54,464.18 197.15,462.58 197.15,460.20 L197.15,442.40 Z" fill="#FAF5B2"/>
<ellipse cx="192.40" cy="442.40" rx="4.75" ry="2.60" fill="#FAF5B2" stroke="#231F20" stroke-width="1.3"/>
<path d="M187.65,406.90 L187.65,460.20 C187.65,462.58 190.26,464.18 192.40,465.50 C194.54,464.18 197.15,462.58 197.15,460.20 L197.15,406.90" fill="none" stroke="#4a4a4a" stroke-width="1.3" stroke-linejoin="round"/>
<ellipse cx="192.40" cy="406.90" rx="4.75" ry="2.60" fill="#FFFFFF" stroke="#231F20" stroke-width="1.3"/>
<path d="M199.70,406.90 L199.70,460.20 C199.70,462.58 202.31,464.18 204.45,465.50 C206.59,464.18 209.20,462.58 209.20,460.20 L209.20,406.90 Z" fill="#FFFFFF"/>
<path d="M199.70,442.40 L199.70,460.20 C199.70,462.58 202.31,464.18 204.45,465.50 C206.59,464.18 209.20,462.58 209.20,460.20 L209.20,442.40 Z" fill="#FAF5B2"/>
<ellipse cx="204.45" cy="442.40" rx="4.75" ry="2.60" fill="#FAF5B2" stroke="#231F20" stroke-width="1.3"/>
<path d="M199.70,406.90 L199.70,460.20 C199.70,462.58 202.31,464.18 204.45,465.50 C206.59,464.18 209.20,462.58 209.20,460.20 L209.20,406.90" fill="none" stroke="#4a4a4a" stroke-width="1.3" stroke-linejoin="round"/>
<ellipse cx="204.45" cy="406.90" rx="4.75" ry="2.60" fill="#FFFFFF" stroke="#231F20" stroke-width="1.3"/>
<path d="M211.75,406.90 L211.75,460.20 C211.75,462.58 214.36,464.18 216.50,465.50 C218.64,464.18 221.25,462.58 221.25,460.20 L221.25,406.90 Z" fill="#FFFFFF"/>
<path d="M211.75,442.40 L211.75,460.20 C211.75,462.58 214.36,464.18 216.50,465.50 C218.64,464.18 221.25,462.58 221.25,460.20 L221.25,442.40 Z" fill="#FAF5B2"/>
<ellipse cx="216.50" cy="442.40" rx="4.75" ry="2.60" fill="#FAF5B2" stroke="#231F20" stroke-width="1.3"/>
<path d="M211.75,406.90 L211.75,460.20 C211.75,462.58 214.36,464.18 216.50,465.50 C218.64,464.18 221.25,462.58 221.25,460.20 L221.25,406.90" fill="none" stroke="#4a4a4a" stroke-width="1.3" stroke-linejoin="round"/>
<ellipse cx="216.50" cy="406.90" rx="4.75" ry="2.60" fill="#FFFFFF" stroke="#231F20" stroke-width="1.3"/>
<path d="M31.00,474.10 L31.00,527.20 C31.00,529.54 33.61,531.10 35.75,532.40 C37.89,531.10 40.50,529.54 40.50,527.20 L40.50,474.10 Z" fill="#FFFFFF"/>
<path d="M31.00,509.20 L31.00,527.20 C31.00,529.54 33.61,531.10 35.75,532.40 C37.89,531.10 40.50,529.54 40.50,527.20 L40.50,509.20 Z" fill="#FAF5B2"/>
<ellipse cx="35.75" cy="509.20" rx="4.75" ry="2.60" fill="#FAF5B2" stroke="#231F20" stroke-width="1.3"/>
<path d="M31.00,474.10 L31.00,527.20 C31.00,529.54 33.61,531.10 35.75,532.40 C37.89,531.10 40.50,529.54 40.50,527.20 L40.50,474.10" fill="none" stroke="#4a4a4a" stroke-width="1.3" stroke-linejoin="round"/>
<ellipse cx="35.75" cy="474.10" rx="4.75" ry="2.60" fill="#FFFFFF" stroke="#231F20" stroke-width="1.3"/>
<path d="M43.05,474.10 L43.05,527.20 C43.05,529.54 45.66,531.10 47.80,532.40 C49.94,531.10 52.55,529.54 52.55,527.20 L52.55,474.10 Z" fill="#FFFFFF"/>
<path d="M43.05,509.20 L43.05,527.20 C43.05,529.54 45.66,531.10 47.80,532.40 C49.94,531.10 52.55,529.54 52.55,527.20 L52.55,509.20 Z" fill="#FAF5B2"/>
<ellipse cx="47.80" cy="509.20" rx="4.75" ry="2.60" fill="#FAF5B2" stroke="#231F20" stroke-width="1.3"/>
<path d="M43.05,474.10 L43.05,527.20 C43.05,529.54 45.66,531.10 47.80,532.40 C49.94,531.10 52.55,529.54 52.55,527.20 L52.55,474.10" fill="none" stroke="#4a4a4a" stroke-width="1.3" stroke-linejoin="round"/>
<ellipse cx="47.80" cy="474.10" rx="4.75" ry="2.60" fill="#FFFFFF" stroke="#231F20" stroke-width="1.3"/>
<path d="M55.10,474.10 L55.10,527.20 C55.10,529.54 57.71,531.10 59.85,532.40 C61.99,531.10 64.60,529.54 64.60,527.20 L64.60,474.10 Z" fill="#FFFFFF"/>
<path d="M55.10,509.20 L55.10,527.20 C55.10,529.54 57.71,531.10 59.85,532.40 C61.99,531.10 64.60,529.54 64.60,527.20 L64.60,509.20 Z" fill="#FAF5B2"/>
<ellipse cx="59.85" cy="509.20" rx="4.75" ry="2.60" fill="#FAF5B2" stroke="#231F20" stroke-width="1.3"/>
<path d="M55.10,474.10 L55.10,527.20 C55.10,529.54 57.71,531.10 59.85,532.40 C61.99,531.10 64.60,529.54 64.60,527.20 L64.60,474.10" fill="none" stroke="#4a4a4a" stroke-width="1.3" stroke-linejoin="round"/>
<ellipse cx="59.85" cy="474.10" rx="4.75" ry="2.60" fill="#FFFFFF" stroke="#231F20" stroke-width="1.3"/>
<path d="M67.15,474.10 L67.15,527.20 C67.15,529.54 69.76,531.10 71.90,532.40 C74.04,531.10 76.65,529.54 76.65,527.20 L76.65,474.10 Z" fill="#FFFFFF"/>
<path d="M67.15,509.20 L67.15,527.20 C67.15,529.54 69.76,531.10 71.90,532.40 C74.04,531.10 76.65,529.54 76.65,527.20 L76.65,509.20 Z" fill="#FAF5B2"/>
<ellipse cx="71.90" cy="509.20" rx="4.75" ry="2.60" fill="#FAF5B2" stroke="#231F20" stroke-width="1.3"/>
<path d="M67.15,474.10 L67.15,527.20 C67.15,529.54 69.76,531.10 71.90,532.40 C74.04,531.10 76.65,529.54 76.65,527.20 L76.65,474.10" fill="none" stroke="#4a4a4a" stroke-width="1.3" stroke-linejoin="round"/>
<ellipse cx="71.90" cy="474.10" rx="4.75" ry="2.60" fill="#FFFFFF" stroke="#231F20" stroke-width="1.3"/>
<path d="M79.20,474.10 L79.20,527.20 C79.20,529.54 81.81,531.10 83.95,532.40 C86.09,531.10 88.70,529.54 88.70,527.20 L88.70,474.10 Z" fill="#FFFFFF"/>
<path d="M79.20,509.20 L79.20,527.20 C79.20,529.54 81.81,531.10 83.95,532.40 C86.09,531.10 88.70,529.54 88.70,527.20 L88.70,509.20 Z" fill="#FAF5B2"/>
<ellipse cx="83.95" cy="509.20" rx="4.75" ry="2.60" fill="#FAF5B2" stroke="#231F20" stroke-width="1.3"/>
<path d="M79.20,474.10 L79.20,527.20 C79.20,529.54 81.81,531.10 83.95,532.40 C86.09,531.10 88.70,529.54 88.70,527.20 L88.70,474.10" fill="none" stroke="#4a4a4a" stroke-width="1.3" stroke-linejoin="round"/>
<ellipse cx="83.95" cy="474.10" rx="4.75" ry="2.60" fill="#FFFFFF" stroke="#231F20" stroke-width="1.3"/>
<path d="M91.25,474.10 L91.25,527.20 C91.25,529.54 93.86,531.10 96.00,532.40 C98.14,531.10 100.75,529.54 100.75,527.20 L100.75,474.10 Z" fill="#FFFFFF"/>
<path d="M91.25,509.20 L91.25,527.20 C91.25,529.54 93.86,531.10 96.00,532.40 C98.14,531.10 100.75,529.54 100.75,527.20 L100.75,509.20 Z" fill="#FAF5B2"/>
<ellipse cx="96.00" cy="509.20" rx="4.75" ry="2.60" fill="#FAF5B2" stroke="#231F20" stroke-width="1.3"/>
<path d="M91.25,474.10 L91.25,527.20 C91.25,529.54 93.86,531.10 96.00,532.40 C98.14,531.10 100.75,529.54 100.75,527.20 L100.75,474.10" fill="none" stroke="#4a4a4a" stroke-width="1.3" stroke-linejoin="round"/>
<ellipse cx="96.00" cy="474.10" rx="4.75" ry="2.60" fill="#FFFFFF" stroke="#231F20" stroke-width="1.3"/>
<path d="M103.30,474.10 L103.30,527.20 C103.30,529.54 105.91,531.10 108.05,532.40 C110.19,531.10 112.80,529.54 112.80,527.20 L112.80,474.10 Z" fill="#FFFFFF"/>
<path d="M103.30,509.20 L103.30,527.20 C103.30,529.54 105.91,531.10 108.05,532.40 C110.19,531.10 112.80,529.54 112.80,527.20 L112.80,509.20 Z" fill="#FAF5B2"/>
<ellipse cx="108.05" cy="509.20" rx="4.75" ry="2.60" fill="#FAF5B2" stroke="#231F20" stroke-width="1.3"/>
<path d="M103.30,474.10 L103.30,527.20 C103.30,529.54 105.91,531.10 108.05,532.40 C110.19,531.10 112.80,529.54 112.80,527.20 L112.80,474.10" fill="none" stroke="#4a4a4a" stroke-width="1.3" stroke-linejoin="round"/>
<ellipse cx="108.05" cy="474.10" rx="4.75" ry="2.60" fill="#FFFFFF" stroke="#231F20" stroke-width="1.3"/>
<path d="M115.35,474.10 L115.35,527.20 C115.35,529.54 117.96,531.10 120.10,532.40 C122.24,531.10 124.85,529.54 124.85,527.20 L124.85,474.10 Z" fill="#FFFFFF"/>
<path d="M115.35,509.20 L115.35,527.20 C115.35,529.54 117.96,531.10 120.10,532.40 C122.24,531.10 124.85,529.54 124.85,527.20 L124.85,509.20 Z" fill="#FAF5B2"/>
<ellipse cx="120.10" cy="509.20" rx="4.75" ry="2.60" fill="#FAF5B2" stroke="#231F20" stroke-width="1.3"/>
<path d="M115.35,474.10 L115.35,527.20 C115.35,529.54 117.96,531.10 120.10,532.40 C122.24,531.10 124.85,529.54 124.85,527.20 L124.85,474.10" fill="none" stroke="#4a4a4a" stroke-width="1.3" stroke-linejoin="round"/>
<ellipse cx="120.10" cy="474.10" rx="4.75" ry="2.60" fill="#FFFFFF" stroke="#231F20" stroke-width="1.3"/>
<path d="M127.40,474.10 L127.40,527.20 C127.40,529.54 130.01,531.10 132.15,532.40 C134.29,531.10 136.90,529.54 136.90,527.20 L136.90,474.10 Z" fill="#FFFFFF"/>
<path d="M127.40,509.20 L127.40,527.20 C127.40,529.54 130.01,531.10 132.15,532.40 C134.29,531.10 136.90,529.54 136.90,527.20 L136.90,509.20 Z" fill="#FAF5B2"/>
<ellipse cx="132.15" cy="509.20" rx="4.75" ry="2.60" fill="#FAF5B2" stroke="#231F20" stroke-width="1.3"/>
<path d="M127.40,474.10 L127.40,527.20 C127.40,529.54 130.01,531.10 132.15,532.40 C134.29,531.10 136.90,529.54 136.90,527.20 L136.90,474.10" fill="none" stroke="#4a4a4a" stroke-width="1.3" stroke-linejoin="round"/>
<ellipse cx="132.15" cy="474.10" rx="4.75" ry="2.60" fill="#FFFFFF" stroke="#231F20" stroke-width="1.3"/>
<path d="M139.45,474.10 L139.45,527.20 C139.45,529.54 142.06,531.10 144.20,532.40 C146.34,531.10 148.95,529.54 148.95,527.20 L148.95,474.10 Z" fill="#FFFFFF"/>
<path d="M139.45,509.20 L139.45,527.20 C139.45,529.54 142.06,531.10 144.20,532.40 C146.34,531.10 148.95,529.54 148.95,527.20 L148.95,509.20 Z" fill="#FAF5B2"/>
<ellipse cx="144.20" cy="509.20" rx="4.75" ry="2.60" fill="#FAF5B2" stroke="#231F20" stroke-width="1.3"/>
<path d="M139.45,474.10 L139.45,527.20 C139.45,529.54 142.06,531.10 144.20,532.40 C146.34,531.10 148.95,529.54 148.95,527.20 L148.95,474.10" fill="none" stroke="#4a4a4a" stroke-width="1.3" stroke-linejoin="round"/>
<ellipse cx="144.20" cy="474.10" rx="4.75" ry="2.60" fill="#FFFFFF" stroke="#231F20" stroke-width="1.3"/>
<path d="M151.50,474.10 L151.50,527.20 C151.50,529.54 154.11,531.10 156.25,532.40 C158.39,531.10 161.00,529.54 161.00,527.20 L161.00,474.10 Z" fill="#FFFFFF"/>
<path d="M151.50,509.20 L151.50,527.20 C151.50,529.54 154.11,531.10 156.25,532.40 C158.39,531.10 161.00,529.54 161.00,527.20 L161.00,509.20 Z" fill="#FAF5B2"/>
<ellipse cx="156.25" cy="509.20" rx="4.75" ry="2.60" fill="#FAF5B2" stroke="#231F20" stroke-width="1.3"/>
<path d="M151.50,474.10 L151.50,527.20 C151.50,529.54 154.11,531.10 156.25,532.40 C158.39,531.10 161.00,529.54 161.00,527.20 L161.00,474.10" fill="none" stroke="#4a4a4a" stroke-width="1.3" stroke-linejoin="round"/>
<ellipse cx="156.25" cy="474.10" rx="4.75" ry="2.60" fill="#FFFFFF" stroke="#231F20" stroke-width="1.3"/>
<path d="M163.55,474.10 L163.55,527.20 C163.55,529.54 166.16,531.10 168.30,532.40 C170.44,531.10 173.05,529.54 173.05,527.20 L173.05,474.10 Z" fill="#FFFFFF"/>
<path d="M163.55,509.20 L163.55,527.20 C163.55,529.54 166.16,531.10 168.30,532.40 C170.44,531.10 173.05,529.54 173.05,527.20 L173.05,509.20 Z" fill="#FAF5B2"/>
<ellipse cx="168.30" cy="509.20" rx="4.75" ry="2.60" fill="#FAF5B2" stroke="#231F20" stroke-width="1.3"/>
<path d="M163.55,474.10 L163.55,527.20 C163.55,529.54 166.16,531.10 168.30,532.40 C170.44,531.10 173.05,529.54 173.05,527.20 L173.05,474.10" fill="none" stroke="#4a4a4a" stroke-width="1.3" stroke-linejoin="round"/>
<ellipse cx="168.30" cy="474.10" rx="4.75" ry="2.60" fill="#FFFFFF" stroke="#231F20" stroke-width="1.3"/>
<path d="M175.60,474.10 L175.60,527.20 C175.60,529.54 178.21,531.10 180.35,532.40 C182.49,531.10 185.10,529.54 185.10,527.20 L185.10,474.10 Z" fill="#FFFFFF"/>
<path d="M175.60,509.20 L175.60,527.20 C175.60,529.54 178.21,531.10 180.35,532.40 C182.49,531.10 185.10,529.54 185.10,527.20 L185.10,509.20 Z" fill="#FAF5B2"/>
<ellipse cx="180.35" cy="509.20" rx="4.75" ry="2.60" fill="#FAF5B2" stroke="#231F20" stroke-width="1.3"/>
<path d="M175.60,474.10 L175.60,527.20 C175.60,529.54 178.21,531.10 180.35,532.40 C182.49,531.10 185.10,529.54 185.10,527.20 L185.10,474.10" fill="none" stroke="#4a4a4a" stroke-width="1.3" stroke-linejoin="round"/>
<ellipse cx="180.35" cy="474.10" rx="4.75" ry="2.60" fill="#FFFFFF" stroke="#231F20" stroke-width="1.3"/>
<path d="M187.65,474.10 L187.65,527.20 C187.65,529.54 190.26,531.10 192.40,532.40 C194.54,531.10 197.15,529.54 197.15,527.20 L197.15,474.10 Z" fill="#FFFFFF"/>
<path d="M187.65,509.20 L187.65,527.20 C187.65,529.54 190.26,531.10 192.40,532.40 C194.54,531.10 197.15,529.54 197.15,527.20 L197.15,509.20 Z" fill="#FAF5B2"/>
<ellipse cx="192.40" cy="509.20" rx="4.75" ry="2.60" fill="#FAF5B2" stroke="#231F20" stroke-width="1.3"/>
<path d="M187.65,474.10 L187.65,527.20 C187.65,529.54 190.26,531.10 192.40,532.40 C194.54,531.10 197.15,529.54 197.15,527.20 L197.15,474.10" fill="none" stroke="#4a4a4a" stroke-width="1.3" stroke-linejoin="round"/>
<ellipse cx="192.40" cy="474.10" rx="4.75" ry="2.60" fill="#FFFFFF" stroke="#231F20" stroke-width="1.3"/>
<path d="M199.70,474.10 L199.70,527.20 C199.70,529.54 202.31,531.10 204.45,532.40 C206.59,531.10 209.20,529.54 209.20,527.20 L209.20,474.10 Z" fill="#FFFFFF"/>
<path d="M199.70,509.20 L199.70,527.20 C199.70,529.54 202.31,531.10 204.45,532.40 C206.59,531.10 209.20,529.54 209.20,527.20 L209.20,509.20 Z" fill="#FAF5B2"/>
<ellipse cx="204.45" cy="509.20" rx="4.75" ry="2.60" fill="#FAF5B2" stroke="#231F20" stroke-width="1.3"/>
<path d="M199.70,474.10 L199.70,527.20 C199.70,529.54 202.31,531.10 204.45,532.40 C206.59,531.10 209.20,529.54 209.20,527.20 L209.20,474.10" fill="none" stroke="#4a4a4a" stroke-width="1.3" stroke-linejoin="round"/>
<ellipse cx="204.45" cy="474.10" rx="4.75" ry="2.60" fill="#FFFFFF" stroke="#231F20" stroke-width="1.3"/>
<path d="M211.75,474.10 L211.75,527.20 C211.75,529.54 214.36,531.10 216.50,532.40 C218.64,531.10 221.25,529.54 221.25,527.20 L221.25,474.10 Z" fill="#FFFFFF"/>
<path d="M211.75,509.20 L211.75,527.20 C211.75,529.54 214.36,531.10 216.50,532.40 C218.64,531.10 221.25,529.54 221.25,527.20 L221.25,509.20 Z" fill="#FAF5B2"/>
<ellipse cx="216.50" cy="509.20" rx="4.75" ry="2.60" fill="#FAF5B2" stroke="#231F20" stroke-width="1.3"/>
<path d="M211.75,474.10 L211.75,527.20 C211.75,529.54 214.36,531.10 216.50,532.40 C218.64,531.10 221.25,529.54 221.25,527.20 L221.25,474.10" fill="none" stroke="#4a4a4a" stroke-width="1.3" stroke-linejoin="round"/>
<ellipse cx="216.50" cy="474.10" rx="4.75" ry="2.60" fill="#FFFFFF" stroke="#231F20" stroke-width="1.3"/>
<path d="M32.10,543.80 L32.10,597.00 C32.10,599.34 34.71,600.90 36.85,602.20 C38.99,600.90 41.60,599.34 41.60,597.00 L41.60,543.80 Z" fill="#FFFFFF"/>
<path d="M32.10,578.50 L32.10,597.00 C32.10,599.34 34.71,600.90 36.85,602.20 C38.99,600.90 41.60,599.34 41.60,597.00 L41.60,578.50 Z" fill="#FAF5B2"/>
<ellipse cx="36.85" cy="578.50" rx="4.75" ry="2.60" fill="#FAF5B2" stroke="#231F20" stroke-width="1.3"/>
<path d="M32.10,543.80 L32.10,597.00 C32.10,599.34 34.71,600.90 36.85,602.20 C38.99,600.90 41.60,599.34 41.60,597.00 L41.60,543.80" fill="none" stroke="#4a4a4a" stroke-width="1.3" stroke-linejoin="round"/>
<ellipse cx="36.85" cy="543.80" rx="4.75" ry="2.60" fill="#FFFFFF" stroke="#231F20" stroke-width="1.3"/>
<path d="M44.15,543.80 L44.15,597.00 C44.15,599.34 46.76,600.90 48.90,602.20 C51.04,600.90 53.65,599.34 53.65,597.00 L53.65,543.80 Z" fill="#FFFFFF"/>
<path d="M44.15,578.50 L44.15,597.00 C44.15,599.34 46.76,600.90 48.90,602.20 C51.04,600.90 53.65,599.34 53.65,597.00 L53.65,578.50 Z" fill="#FAF5B2"/>
<ellipse cx="48.90" cy="578.50" rx="4.75" ry="2.60" fill="#FAF5B2" stroke="#231F20" stroke-width="1.3"/>
<path d="M44.15,543.80 L44.15,597.00 C44.15,599.34 46.76,600.90 48.90,602.20 C51.04,600.90 53.65,599.34 53.65,597.00 L53.65,543.80" fill="none" stroke="#4a4a4a" stroke-width="1.3" stroke-linejoin="round"/>
<ellipse cx="48.90" cy="543.80" rx="4.75" ry="2.60" fill="#FFFFFF" stroke="#231F20" stroke-width="1.3"/>
<path d="M56.20,543.80 L56.20,597.00 C56.20,599.34 58.81,600.90 60.95,602.20 C63.09,600.90 65.70,599.34 65.70,597.00 L65.70,543.80 Z" fill="#FFFFFF"/>
<path d="M56.20,578.50 L56.20,597.00 C56.20,599.34 58.81,600.90 60.95,602.20 C63.09,600.90 65.70,599.34 65.70,597.00 L65.70,578.50 Z" fill="#FAF5B2"/>
<ellipse cx="60.95" cy="578.50" rx="4.75" ry="2.60" fill="#FAF5B2" stroke="#231F20" stroke-width="1.3"/>
<path d="M56.20,543.80 L56.20,597.00 C56.20,599.34 58.81,600.90 60.95,602.20 C63.09,600.90 65.70,599.34 65.70,597.00 L65.70,543.80" fill="none" stroke="#4a4a4a" stroke-width="1.3" stroke-linejoin="round"/>
<ellipse cx="60.95" cy="543.80" rx="4.75" ry="2.60" fill="#FFFFFF" stroke="#231F20" stroke-width="1.3"/>
<path d="M68.25,543.80 L68.25,597.00 C68.25,599.34 70.86,600.90 73.00,602.20 C75.14,600.90 77.75,599.34 77.75,597.00 L77.75,543.80 Z" fill="#FFFFFF"/>
<path d="M68.25,578.50 L68.25,597.00 C68.25,599.34 70.86,600.90 73.00,602.20 C75.14,600.90 77.75,599.34 77.75,597.00 L77.75,578.50 Z" fill="#FAF5B2"/>
<ellipse cx="73.00" cy="578.50" rx="4.75" ry="2.60" fill="#FAF5B2" stroke="#231F20" stroke-width="1.3"/>
<path d="M68.25,543.80 L68.25,597.00 C68.25,599.34 70.86,600.90 73.00,602.20 C75.14,600.90 77.75,599.34 77.75,597.00 L77.75,543.80" fill="none" stroke="#4a4a4a" stroke-width="1.3" stroke-linejoin="round"/>
<ellipse cx="73.00" cy="543.80" rx="4.75" ry="2.60" fill="#FFFFFF" stroke="#231F20" stroke-width="1.3"/>
<path d="M80.30,543.80 L80.30,597.00 C80.30,599.34 82.91,600.90 85.05,602.20 C87.19,600.90 89.80,599.34 89.80,597.00 L89.80,543.80 Z" fill="#FFFFFF"/>
<path d="M80.30,578.50 L80.30,597.00 C80.30,599.34 82.91,600.90 85.05,602.20 C87.19,600.90 89.80,599.34 89.80,597.00 L89.80,578.50 Z" fill="#FAF5B2"/>
<ellipse cx="85.05" cy="578.50" rx="4.75" ry="2.60" fill="#FAF5B2" stroke="#231F20" stroke-width="1.3"/>
<path d="M80.30,543.80 L80.30,597.00 C80.30,599.34 82.91,600.90 85.05,602.20 C87.19,600.90 89.80,599.34 89.80,597.00 L89.80,543.80" fill="none" stroke="#4a4a4a" stroke-width="1.3" stroke-linejoin="round"/>
<ellipse cx="85.05" cy="543.80" rx="4.75" ry="2.60" fill="#FFFFFF" stroke="#231F20" stroke-width="1.3"/>
<path d="M92.35,543.80 L92.35,597.00 C92.35,599.34 94.96,600.90 97.10,602.20 C99.24,600.90 101.85,599.34 101.85,597.00 L101.85,543.80 Z" fill="#FFFFFF"/>
<path d="M92.35,578.50 L92.35,597.00 C92.35,599.34 94.96,600.90 97.10,602.20 C99.24,600.90 101.85,599.34 101.85,597.00 L101.85,578.50 Z" fill="#FAF5B2"/>
<ellipse cx="97.10" cy="578.50" rx="4.75" ry="2.60" fill="#FAF5B2" stroke="#231F20" stroke-width="1.3"/>
<path d="M92.35,543.80 L92.35,597.00 C92.35,599.34 94.96,600.90 97.10,602.20 C99.24,600.90 101.85,599.34 101.85,597.00 L101.85,543.80" fill="none" stroke="#4a4a4a" stroke-width="1.3" stroke-linejoin="round"/>
<ellipse cx="97.10" cy="543.80" rx="4.75" ry="2.60" fill="#FFFFFF" stroke="#231F20" stroke-width="1.3"/>
<path d="M104.40,543.80 L104.40,597.00 C104.40,599.34 107.01,600.90 109.15,602.20 C111.29,600.90 113.90,599.34 113.90,597.00 L113.90,543.80 Z" fill="#FFFFFF"/>
<path d="M104.40,578.50 L104.40,597.00 C104.40,599.34 107.01,600.90 109.15,602.20 C111.29,600.90 113.90,599.34 113.90,597.00 L113.90,578.50 Z" fill="#FAF5B2"/>
<ellipse cx="109.15" cy="578.50" rx="4.75" ry="2.60" fill="#FAF5B2" stroke="#231F20" stroke-width="1.3"/>
<path d="M104.40,543.80 L104.40,597.00 C104.40,599.34 107.01,600.90 109.15,602.20 C111.29,600.90 113.90,599.34 113.90,597.00 L113.90,543.80" fill="none" stroke="#4a4a4a" stroke-width="1.3" stroke-linejoin="round"/>
<ellipse cx="109.15" cy="543.80" rx="4.75" ry="2.60" fill="#FFFFFF" stroke="#231F20" stroke-width="1.3"/>
<path d="M116.45,543.80 L116.45,597.00 C116.45,599.34 119.06,600.90 121.20,602.20 C123.34,600.90 125.95,599.34 125.95,597.00 L125.95,543.80 Z" fill="#FFFFFF"/>
<path d="M116.45,578.50 L116.45,597.00 C116.45,599.34 119.06,600.90 121.20,602.20 C123.34,600.90 125.95,599.34 125.95,597.00 L125.95,578.50 Z" fill="#FAF5B2"/>
<ellipse cx="121.20" cy="578.50" rx="4.75" ry="2.60" fill="#FAF5B2" stroke="#231F20" stroke-width="1.3"/>
<path d="M116.45,543.80 L116.45,597.00 C116.45,599.34 119.06,600.90 121.20,602.20 C123.34,600.90 125.95,599.34 125.95,597.00 L125.95,543.80" fill="none" stroke="#4a4a4a" stroke-width="1.3" stroke-linejoin="round"/>
<ellipse cx="121.20" cy="543.80" rx="4.75" ry="2.60" fill="#FFFFFF" stroke="#231F20" stroke-width="1.3"/>
<path d="M128.50,543.80 L128.50,597.00 C128.50,599.34 131.11,600.90 133.25,602.20 C135.39,600.90 138.00,599.34 138.00,597.00 L138.00,543.80 Z" fill="#FFFFFF"/>
<path d="M128.50,578.50 L128.50,597.00 C128.50,599.34 131.11,600.90 133.25,602.20 C135.39,600.90 138.00,599.34 138.00,597.00 L138.00,578.50 Z" fill="#FAF5B2"/>
<ellipse cx="133.25" cy="578.50" rx="4.75" ry="2.60" fill="#FAF5B2" stroke="#231F20" stroke-width="1.3"/>
<path d="M128.50,543.80 L128.50,597.00 C128.50,599.34 131.11,600.90 133.25,602.20 C135.39,600.90 138.00,599.34 138.00,597.00 L138.00,543.80" fill="none" stroke="#4a4a4a" stroke-width="1.3" stroke-linejoin="round"/>
<ellipse cx="133.25" cy="543.80" rx="4.75" ry="2.60" fill="#FFFFFF" stroke="#231F20" stroke-width="1.3"/>
<path d="M140.55,543.80 L140.55,597.00 C140.55,599.34 143.16,600.90 145.30,602.20 C147.44,600.90 150.05,599.34 150.05,597.00 L150.05,543.80 Z" fill="#FFFFFF"/>
<path d="M140.55,578.50 L140.55,597.00 C140.55,599.34 143.16,600.90 145.30,602.20 C147.44,600.90 150.05,599.34 150.05,597.00 L150.05,578.50 Z" fill="#FAF5B2"/>
<ellipse cx="145.30" cy="578.50" rx="4.75" ry="2.60" fill="#FAF5B2" stroke="#231F20" stroke-width="1.3"/>
<path d="M140.55,543.80 L140.55,597.00 C140.55,599.34 143.16,600.90 145.30,602.20 C147.44,600.90 150.05,599.34 150.05,597.00 L150.05,543.80" fill="none" stroke="#4a4a4a" stroke-width="1.3" stroke-linejoin="round"/>
<ellipse cx="145.30" cy="543.80" rx="4.75" ry="2.60" fill="#FFFFFF" stroke="#231F20" stroke-width="1.3"/>
<path d="M152.60,543.80 L152.60,597.00 C152.60,599.34 155.21,600.90 157.35,602.20 C159.49,600.90 162.10,599.34 162.10,597.00 L162.10,543.80 Z" fill="#FFFFFF"/>
<path d="M152.60,578.50 L152.60,597.00 C152.60,599.34 155.21,600.90 157.35,602.20 C159.49,600.90 162.10,599.34 162.10,597.00 L162.10,578.50 Z" fill="#FAF5B2"/>
<ellipse cx="157.35" cy="578.50" rx="4.75" ry="2.60" fill="#FAF5B2" stroke="#231F20" stroke-width="1.3"/>
<path d="M152.60,543.80 L152.60,597.00 C152.60,599.34 155.21,600.90 157.35,602.20 C159.49,600.90 162.10,599.34 162.10,597.00 L162.10,543.80" fill="none" stroke="#4a4a4a" stroke-width="1.3" stroke-linejoin="round"/>
<ellipse cx="157.35" cy="543.80" rx="4.75" ry="2.60" fill="#FFFFFF" stroke="#231F20" stroke-width="1.3"/>
<path d="M164.65,543.80 L164.65,597.00 C164.65,599.34 167.26,600.90 169.40,602.20 C171.54,600.90 174.15,599.34 174.15,597.00 L174.15,543.80 Z" fill="#FFFFFF"/>
<path d="M164.65,578.50 L164.65,597.00 C164.65,599.34 167.26,600.90 169.40,602.20 C171.54,600.90 174.15,599.34 174.15,597.00 L174.15,578.50 Z" fill="#FAF5B2"/>
<ellipse cx="169.40" cy="578.50" rx="4.75" ry="2.60" fill="#FAF5B2" stroke="#231F20" stroke-width="1.3"/>
<path d="M164.65,543.80 L164.65,597.00 C164.65,599.34 167.26,600.90 169.40,602.20 C171.54,600.90 174.15,599.34 174.15,597.00 L174.15,543.80" fill="none" stroke="#4a4a4a" stroke-width="1.3" stroke-linejoin="round"/>
<ellipse cx="169.40" cy="543.80" rx="4.75" ry="2.60" fill="#FFFFFF" stroke="#231F20" stroke-width="1.3"/>
<path d="M176.70,543.80 L176.70,597.00 C176.70,599.34 179.31,600.90 181.45,602.20 C183.59,600.90 186.20,599.34 186.20,597.00 L186.20,543.80 Z" fill="#FFFFFF"/>
<path d="M176.70,578.50 L176.70,597.00 C176.70,599.34 179.31,600.90 181.45,602.20 C183.59,600.90 186.20,599.34 186.20,597.00 L186.20,578.50 Z" fill="#FAF5B2"/>
<ellipse cx="181.45" cy="578.50" rx="4.75" ry="2.60" fill="#FAF5B2" stroke="#231F20" stroke-width="1.3"/>
<path d="M176.70,543.80 L176.70,597.00 C176.70,599.34 179.31,600.90 181.45,602.20 C183.59,600.90 186.20,599.34 186.20,597.00 L186.20,543.80" fill="none" stroke="#4a4a4a" stroke-width="1.3" stroke-linejoin="round"/>
<ellipse cx="181.45" cy="543.80" rx="4.75" ry="2.60" fill="#FFFFFF" stroke="#231F20" stroke-width="1.3"/>
<path d="M188.75,543.80 L188.75,597.00 C188.75,599.34 191.36,600.90 193.50,602.20 C195.64,600.90 198.25,599.34 198.25,597.00 L198.25,543.80 Z" fill="#FFFFFF"/>
<path d="M188.75,578.50 L188.75,597.00 C188.75,599.34 191.36,600.90 193.50,602.20 C195.64,600.90 198.25,599.34 198.25,597.00 L198.25,578.50 Z" fill="#FAF5B2"/>
<ellipse cx="193.50" cy="578.50" rx="4.75" ry="2.60" fill="#FAF5B2" stroke="#231F20" stroke-width="1.3"/>
<path d="M188.75,543.80 L188.75,597.00 C188.75,599.34 191.36,600.90 193.50,602.20 C195.64,600.90 198.25,599.34 198.25,597.00 L198.25,543.80" fill="none" stroke="#4a4a4a" stroke-width="1.3" stroke-linejoin="round"/>
<ellipse cx="193.50" cy="543.80" rx="4.75" ry="2.60" fill="#FFFFFF" stroke="#231F20" stroke-width="1.3"/>
<path d="M200.80,543.80 L200.80,597.00 C200.80,599.34 203.41,600.90 205.55,602.20 C207.69,600.90 210.30,599.34 210.30,597.00 L210.30,543.80 Z" fill="#FFFFFF"/>
<path d="M200.80,578.50 L200.80,597.00 C200.80,599.34 203.41,600.90 205.55,602.20 C207.69,600.90 210.30,599.34 210.30,597.00 L210.30,578.50 Z" fill="#FAF5B2"/>
<ellipse cx="205.55" cy="578.50" rx="4.75" ry="2.60" fill="#FAF5B2" stroke="#231F20" stroke-width="1.3"/>
<path d="M200.80,543.80 L200.80,597.00 C200.80,599.34 203.41,600.90 205.55,602.20 C207.69,600.90 210.30,599.34 210.30,597.00 L210.30,543.80" fill="none" stroke="#4a4a4a" stroke-width="1.3" stroke-linejoin="round"/>
<ellipse cx="205.55" cy="543.80" rx="4.75" ry="2.60" fill="#FFFFFF" stroke="#231F20" stroke-width="1.3"/>
<path d="M212.85,543.80 L212.85,597.00 C212.85,599.34 215.46,600.90 217.60,602.20 C219.74,600.90 222.35,599.34 222.35,597.00 L222.35,543.80 Z" fill="#FFFFFF"/>
<path d="M212.85,578.50 L212.85,597.00 C212.85,599.34 215.46,600.90 217.60,602.20 C219.74,600.90 222.35,599.34 222.35,597.00 L222.35,578.50 Z" fill="#FAF5B2"/>
<ellipse cx="217.60" cy="578.50" rx="4.75" ry="2.60" fill="#FAF5B2" stroke="#231F20" stroke-width="1.3"/>
<path d="M212.85,543.80 L212.85,597.00 C212.85,599.34 215.46,600.90 217.60,602.20 C219.74,600.90 222.35,599.34 222.35,597.00 L222.35,543.80" fill="none" stroke="#4a4a4a" stroke-width="1.3" stroke-linejoin="round"/>
<ellipse cx="217.60" cy="543.80" rx="4.75" ry="2.60" fill="#FFFFFF" stroke="#231F20" stroke-width="1.3"/>
<text x="-0.60" y="435.90" font-size="9.5" fill="#3a3a3a" text-anchor="start" font-weight="normal" >Day 1</text>
<text x="-0.60" y="506.30" font-size="9.5" fill="#3a3a3a" text-anchor="start" font-weight="normal" >Day 2</text>
<text x="-0.60" y="576.90" font-size="9.5" fill="#3a3a3a" text-anchor="start" font-weight="normal" >Day 3</text>
<text x="276.80" y="405.30" font-size="9.8" fill="#3a3a3a" text-anchor="middle" font-weight="normal" >Intrabatch</text>
<text x="276.80" y="416.40" font-size="9.8" fill="#3a3a3a" text-anchor="middle" font-weight="normal" >CV</text>
<text x="247.00" y="433.30" font-size="9.8" fill="#3a3a3a" text-anchor="middle" font-weight="normal" >3x</text>
<text x="248.40" y="445.60" font-size="9.8" fill="#3a3a3a" text-anchor="middle" font-weight="normal" >injections</text>
<path d="M274.3,426.2 L278.6,426.2 L278.6,445.3 L274.3,445.3" fill="none" stroke="#231F20" stroke-width="1.3"/>
<line x1="278.60" y1="435.80" x2="303.80" y2="435.80" stroke="#231F20" stroke-width="1.3" />
<text x="247.00" y="500.00" font-size="9.8" fill="#3a3a3a" text-anchor="middle" font-weight="normal" >3x</text>
<text x="248.40" y="512.30" font-size="9.8" fill="#3a3a3a" text-anchor="middle" font-weight="normal" >injections</text>
<path d="M274.3,492.5 L278.6,492.5 L278.6,512.0 L274.3,512.0" fill="none" stroke="#231F20" stroke-width="1.3"/>
<line x1="278.60" y1="502.50" x2="303.80" y2="502.50" stroke="#231F20" stroke-width="1.3" />
<text x="247.00" y="568.80" font-size="9.8" fill="#3a3a3a" text-anchor="middle" font-weight="normal" >3x</text>
<text x="248.40" y="581.10" font-size="9.8" fill="#3a3a3a" text-anchor="middle" font-weight="normal" >injections</text>
<path d="M274.3,562.3 L278.6,562.3 L278.6,580.9 L274.3,580.9" fill="none" stroke="#231F20" stroke-width="1.3"/>
<line x1="278.60" y1="571.30" x2="303.80" y2="571.30" stroke="#231F20" stroke-width="1.3" />
<line x1="303.80" y1="435.20" x2="303.80" y2="571.90" stroke="#231F20" stroke-width="1.3" />
<text x="322.00" y="493.60" font-size="9.8" fill="#3a3a3a" text-anchor="middle" font-weight="normal" >Inter-</text>
<text x="322.00" y="505.60" font-size="9.8" fill="#3a3a3a" text-anchor="middle" font-weight="normal" >batch</text>
<text x="322.30" y="517.40" font-size="9.8" fill="#3a3a3a" text-anchor="middle" font-weight="normal" >CV</text>
<rect x="417.20" y="5.30" width="231.10" height="220.80" fill="#FFFFFF" stroke="none" stroke-width="0" />
<line x1="444.75" y1="5.30" x2="444.75" y2="226.10" stroke="#F2F3F5" stroke-width="1.0" />
<line x1="487.65" y1="5.30" x2="487.65" y2="226.10" stroke="#F2F3F5" stroke-width="1.0" />
<line x1="530.55" y1="5.30" x2="530.55" y2="226.10" stroke="#F2F3F5" stroke-width="1.0" />
<line x1="573.45" y1="5.30" x2="573.45" y2="226.10" stroke="#F2F3F5" stroke-width="1.0" />
<line x1="616.35" y1="5.30" x2="616.35" y2="226.10" stroke="#F2F3F5" stroke-width="1.0" />
<line x1="417.20" y1="199.51" x2="648.30" y2="199.51" stroke="#F2F3F5" stroke-width="1.0" />
<line x1="417.20" y1="158.93" x2="648.30" y2="158.93" stroke="#F2F3F5" stroke-width="1.0" />
<line x1="417.20" y1="118.35" x2="648.30" y2="118.35" stroke="#F2F3F5" stroke-width="1.0" />
<line x1="417.20" y1="77.77" x2="648.30" y2="77.77" stroke="#F2F3F5" stroke-width="1.0" />
<line x1="417.20" y1="37.19" x2="648.30" y2="37.19" stroke="#F2F3F5" stroke-width="1.0" />
<line x1="423.30" y1="5.30" x2="423.30" y2="226.10" stroke="#E9EBEE" stroke-width="1.07" />
<line x1="466.20" y1="5.30" x2="466.20" y2="226.10" stroke="#E9EBEE" stroke-width="1.07" />
<line x1="509.10" y1="5.30" x2="509.10" y2="226.10" stroke="#E9EBEE" stroke-width="1.07" />
<line x1="552.00" y1="5.30" x2="552.00" y2="226.10" stroke="#E9EBEE" stroke-width="1.07" />
<line x1="594.90" y1="5.30" x2="594.90" y2="226.10" stroke="#E9EBEE" stroke-width="1.07" />
<line x1="637.80" y1="5.30" x2="637.80" y2="226.10" stroke="#E9EBEE" stroke-width="1.07" />
<line x1="417.20" y1="219.80" x2="648.30" y2="219.80" stroke="#E9EBEE" stroke-width="1.07" />
<line x1="417.20" y1="179.22" x2="648.30" y2="179.22" stroke="#E9EBEE" stroke-width="1.07" />
<line x1="417.20" y1="138.64" x2="648.30" y2="138.64" stroke="#E9EBEE" stroke-width="1.07" />
<line x1="417.20" y1="98.06" x2="648.30" y2="98.06" stroke="#E9EBEE" stroke-width="1.07" />
<line x1="417.20" y1="57.48" x2="648.30" y2="57.48" stroke="#E9EBEE" stroke-width="1.07" />
<line x1="417.20" y1="16.90" x2="648.30" y2="16.90" stroke="#E9EBEE" stroke-width="1.07" />
<circle cx="427.10" cy="15.10" r="2.85" fill="#000" fill-opacity="0.66"/>
<circle cx="455.90" cy="65.10" r="2.85" fill="#000" fill-opacity="0.66"/>
<circle cx="535.60" cy="23.90" r="2.85" fill="#000" fill-opacity="0.66"/>
<circle cx="616.20" cy="138.20" r="2.85" fill="#000" fill-opacity="0.66"/>
<circle cx="609.40" cy="156.00" r="2.85" fill="#000" fill-opacity="0.66"/>
<circle cx="609.40" cy="169.50" r="2.85" fill="#000" fill-opacity="0.66"/>
<circle cx="625.10" cy="177.90" r="2.85" fill="#000" fill-opacity="0.66"/>
<circle cx="632.20" cy="176.80" r="2.85" fill="#000" fill-opacity="0.66"/>
<circle cx="537.30" cy="93.80" r="2.85" fill="#000" fill-opacity="0.8"/>
<circle cx="623.70" cy="184.10" r="2.85" fill="#000" fill-opacity="0.66"/>
<circle cx="625.60" cy="188.40" r="2.85" fill="#000" fill-opacity="0.66"/>
<circle cx="627.40" cy="192.30" r="2.85" fill="#000" fill-opacity="0.66"/>
<circle cx="629.00" cy="195.60" r="2.85" fill="#000" fill-opacity="0.66"/>
<circle cx="635.00" cy="190.80" r="2.85" fill="#282828"/>
<circle cx="635.00" cy="190.80" r="2.85" fill="#282828"/>
<circle cx="635.07" cy="191.43" r="2.85" fill="#282828"/>
<circle cx="635.07" cy="191.43" r="2.85" fill="#282828"/>
<circle cx="635.15" cy="192.06" r="2.85" fill="#282828"/>
<circle cx="635.15" cy="192.06" r="2.85" fill="#282828"/>
<circle cx="634.29" cy="192.69" r="2.85" fill="#282828"/>
<circle cx="636.15" cy="192.69" r="2.85" fill="#282828"/>
<circle cx="634.39" cy="193.32" r="2.85" fill="#282828"/>
<circle cx="636.21" cy="193.32" r="2.85" fill="#282828"/>
<circle cx="634.49" cy="193.95" r="2.85" fill="#282828"/>
<circle cx="636.26" cy="193.95" r="2.85" fill="#282828"/>
<circle cx="634.58" cy="194.58" r="2.85" fill="#282828"/>
<circle cx="636.31" cy="194.58" r="2.85" fill="#282828"/>
<circle cx="634.68" cy="195.22" r="2.85" fill="#282828"/>
<circle cx="636.36" cy="195.22" r="2.85" fill="#282828"/>
<circle cx="634.78" cy="195.85" r="2.85" fill="#282828"/>
<circle cx="636.41" cy="195.85" r="2.85" fill="#282828"/>
<circle cx="634.88" cy="196.48" r="2.85" fill="#282828"/>
<circle cx="636.46" cy="196.48" r="2.85" fill="#282828"/>
<circle cx="634.97" cy="197.11" r="2.85" fill="#282828"/>
<circle cx="636.51" cy="197.11" r="2.85" fill="#282828"/>
<circle cx="635.07" cy="197.74" r="2.85" fill="#282828"/>
<circle cx="636.56" cy="197.74" r="2.85" fill="#282828"/>
<circle cx="635.17" cy="198.37" r="2.85" fill="#282828"/>
<circle cx="636.62" cy="198.37" r="2.85" fill="#282828"/>
<circle cx="635.27" cy="199.00" r="2.85" fill="#282828"/>
<circle cx="636.67" cy="199.00" r="2.85" fill="#282828"/>
<circle cx="635.36" cy="199.63" r="2.85" fill="#282828"/>
<circle cx="636.72" cy="199.63" r="2.85" fill="#282828"/>
<circle cx="635.46" cy="200.26" r="2.85" fill="#282828"/>
<circle cx="636.77" cy="200.26" r="2.85" fill="#282828"/>
<circle cx="635.56" cy="200.89" r="2.85" fill="#282828"/>
<circle cx="636.82" cy="200.89" r="2.85" fill="#282828"/>
<circle cx="635.66" cy="201.52" r="2.85" fill="#282828"/>
<circle cx="636.87" cy="201.52" r="2.85" fill="#282828"/>
<circle cx="635.75" cy="202.15" r="2.85" fill="#282828"/>
<circle cx="636.92" cy="202.15" r="2.85" fill="#282828"/>
<circle cx="635.85" cy="202.78" r="2.85" fill="#282828"/>
<circle cx="636.97" cy="202.78" r="2.85" fill="#282828"/>
<circle cx="635.95" cy="203.42" r="2.85" fill="#282828"/>
<circle cx="637.03" cy="203.42" r="2.85" fill="#282828"/>
<circle cx="636.05" cy="204.05" r="2.85" fill="#282828"/>
<circle cx="637.08" cy="204.05" r="2.85" fill="#282828"/>
<circle cx="636.14" cy="204.68" r="2.85" fill="#282828"/>
<circle cx="637.13" cy="204.68" r="2.85" fill="#282828"/>
<circle cx="636.24" cy="205.31" r="2.85" fill="#282828"/>
<circle cx="637.18" cy="205.31" r="2.85" fill="#282828"/>
<circle cx="636.34" cy="205.94" r="2.85" fill="#282828"/>
<circle cx="637.23" cy="205.94" r="2.85" fill="#282828"/>
<circle cx="636.44" cy="206.57" r="2.85" fill="#282828"/>
<circle cx="637.28" cy="206.57" r="2.85" fill="#282828"/>
<circle cx="636.53" cy="207.20" r="2.85" fill="#282828"/>
<circle cx="637.33" cy="207.20" r="2.85" fill="#282828"/>
<circle cx="636.63" cy="207.83" r="2.85" fill="#282828"/>
<circle cx="637.38" cy="207.83" r="2.85" fill="#282828"/>
<circle cx="636.73" cy="208.46" r="2.85" fill="#282828"/>
<circle cx="637.44" cy="208.46" r="2.85" fill="#282828"/>
<circle cx="636.83" cy="209.09" r="2.85" fill="#282828"/>
<circle cx="637.49" cy="209.09" r="2.85" fill="#282828"/>
<circle cx="636.92" cy="209.72" r="2.85" fill="#282828"/>
<circle cx="637.54" cy="209.72" r="2.85" fill="#282828"/>
<circle cx="637.02" cy="210.35" r="2.85" fill="#282828"/>
<circle cx="637.59" cy="210.35" r="2.85" fill="#282828"/>
<circle cx="637.12" cy="210.98" r="2.85" fill="#282828"/>
<circle cx="637.64" cy="210.98" r="2.85" fill="#282828"/>
<circle cx="637.22" cy="211.62" r="2.85" fill="#282828"/>
<circle cx="637.69" cy="211.62" r="2.85" fill="#282828"/>
<circle cx="637.31" cy="212.25" r="2.85" fill="#282828"/>
<circle cx="637.74" cy="212.25" r="2.85" fill="#282828"/>
<circle cx="637.41" cy="212.88" r="2.85" fill="#282828"/>
<circle cx="637.79" cy="212.88" r="2.85" fill="#282828"/>
<circle cx="637.51" cy="213.51" r="2.85" fill="#282828"/>
<circle cx="637.85" cy="213.51" r="2.85" fill="#282828"/>
<circle cx="637.61" cy="214.14" r="2.85" fill="#282828"/>
<circle cx="637.90" cy="214.14" r="2.85" fill="#282828"/>
<circle cx="637.70" cy="214.77" r="2.85" fill="#282828"/>
<circle cx="637.95" cy="214.77" r="2.85" fill="#282828"/>
<circle cx="637.80" cy="215.40" r="2.85" fill="#282828"/>
<circle cx="638.00" cy="215.40" r="2.85" fill="#282828"/>
<line x1="417.20" y1="199.90" x2="648.30" y2="199.90" stroke="#FF2B2B" stroke-width="1.75" />
<line x1="629.40" y1="5.30" x2="629.40" y2="226.10" stroke="#FF2B2B" stroke-width="1.75" />
<rect x="417.20" y="5.30" width="231.10" height="220.80" fill="none" stroke="#333333" stroke-width="1.07" />
<line x1="413.30" y1="219.80" x2="417.20" y2="219.80" stroke="#333333" stroke-width="1.5" />
<text x="410.20" y="223.90" font-size="12.1" fill="#4D4D4D" text-anchor="end" font-weight="normal" >0</text>
<line x1="413.30" y1="179.22" x2="417.20" y2="179.22" stroke="#333333" stroke-width="1.5" />
<text x="410.20" y="183.32" font-size="12.1" fill="#4D4D4D" text-anchor="end" font-weight="normal" >50</text>
<line x1="413.30" y1="138.64" x2="417.20" y2="138.64" stroke="#333333" stroke-width="1.5" />
<text x="410.20" y="142.74" font-size="12.1" fill="#4D4D4D" text-anchor="end" font-weight="normal" >100</text>
<line x1="413.30" y1="98.06" x2="417.20" y2="98.06" stroke="#333333" stroke-width="1.5" />
<text x="410.20" y="102.16" font-size="12.1" fill="#4D4D4D" text-anchor="end" font-weight="normal" >150</text>
<line x1="413.30" y1="57.48" x2="417.20" y2="57.48" stroke="#333333" stroke-width="1.5" />
<text x="410.20" y="61.58" font-size="12.1" fill="#4D4D4D" text-anchor="end" font-weight="normal" >200</text>
<line x1="413.30" y1="16.90" x2="417.20" y2="16.90" stroke="#333333" stroke-width="1.5" />
<text x="410.20" y="21.00" font-size="12.1" fill="#4D4D4D" text-anchor="end" font-weight="normal" >250</text>
<line x1="423.30" y1="226.10" x2="423.30" y2="230.00" stroke="#333333" stroke-width="1.5" />
<line x1="466.20" y1="226.10" x2="466.20" y2="230.00" stroke="#333333" stroke-width="1.5" />
<line x1="509.10" y1="226.10" x2="509.10" y2="230.00" stroke="#333333" stroke-width="1.5" />
<line x1="552.00" y1="226.10" x2="552.00" y2="230.00" stroke="#333333" stroke-width="1.5" />
<line x1="594.90" y1="226.10" x2="594.90" y2="230.00" stroke="#333333" stroke-width="1.5" />
<line x1="637.80" y1="226.10" x2="637.80" y2="230.00" stroke="#333333" stroke-width="1.5" />
<text transform="translate(383.6,118.7) rotate(-90)" x="0" y="0" font-size="12.4" fill="#1a1a1a" text-anchor="middle">Limit of detection (µL)</text>
<rect x="656.60" y="5.30" width="74.70" height="220.70" fill="#FFFFFF" stroke="none" stroke-width="0" />
<line x1="670.15" y1="5.30" x2="670.15" y2="226.00" stroke="#F2F3F5" stroke-width="1.0" />
<line x1="691.45" y1="5.30" x2="691.45" y2="226.00" stroke="#F2F3F5" stroke-width="1.0" />
<line x1="712.75" y1="5.30" x2="712.75" y2="226.00" stroke="#F2F3F5" stroke-width="1.0" />
<line x1="656.60" y1="197.97" x2="731.30" y2="197.97" stroke="#F2F3F5" stroke-width="1.0" />
<line x1="656.60" y1="157.72" x2="731.30" y2="157.72" stroke="#F2F3F5" stroke-width="1.0" />
<line x1="656.60" y1="117.47" x2="731.30" y2="117.47" stroke="#F2F3F5" stroke-width="1.0" />
<line x1="656.60" y1="77.22" x2="731.30" y2="77.22" stroke="#F2F3F5" stroke-width="1.0" />
<line x1="656.60" y1="36.97" x2="731.30" y2="36.97" stroke="#F2F3F5" stroke-width="1.0" />
<line x1="659.50" y1="5.30" x2="659.50" y2="226.00" stroke="#E9EBEE" stroke-width="1.07" />
<line x1="680.80" y1="5.30" x2="680.80" y2="226.00" stroke="#E9EBEE" stroke-width="1.07" />
<line x1="702.10" y1="5.30" x2="702.10" y2="226.00" stroke="#E9EBEE" stroke-width="1.07" />
<line x1="723.40" y1="5.30" x2="723.40" y2="226.00" stroke="#E9EBEE" stroke-width="1.07" />
<line x1="656.60" y1="218.10" x2="731.30" y2="218.10" stroke="#E9EBEE" stroke-width="1.07" />
<line x1="656.60" y1="177.85" x2="731.30" y2="177.85" stroke="#E9EBEE" stroke-width="1.07" />
<line x1="656.60" y1="137.60" x2="731.30" y2="137.60" stroke="#E9EBEE" stroke-width="1.07" />
<line x1="656.60" y1="97.35" x2="731.30" y2="97.35" stroke="#E9EBEE" stroke-width="1.07" />
<line x1="656.60" y1="57.10" x2="731.30" y2="57.10" stroke="#E9EBEE" stroke-width="1.07" />
<line x1="656.60" y1="16.85" x2="731.30" y2="16.85" stroke="#E9EBEE" stroke-width="1.07" />
<line x1="659.50" y1="15.00" x2="659.50" y2="216.10" stroke="#555" stroke-width="0.9" />
<path d="M659.50,15.00h2.13v3.70h-2.13ZM659.50,22.90h2.13v4.10h-2.13ZM659.50,63.50h2.13v4.20h-2.13ZM659.50,91.50h4.26v4.20h-4.26ZM659.50,168.00h2.13v20.40h-2.13ZM659.50,188.40h17.04v3.60h-17.04ZM659.50,192.00h8.52v4.40h-8.52ZM659.50,196.40h23.43v7.70h-23.43ZM659.50,204.10h27.69v4.20h-27.69ZM659.50,208.30h68.16v3.80h-68.16ZM659.50,212.10h40.47v4.00h-40.47Z" fill="#595959"/>
<line x1="656.60" y1="199.90" x2="731.30" y2="199.90" stroke="#FF2B2B" stroke-width="1.75" />
<rect x="656.60" y="5.30" width="74.70" height="220.70" fill="none" stroke="#333333" stroke-width="1.07" />
<line x1="652.70" y1="218.10" x2="656.60" y2="218.10" stroke="#333333" stroke-width="1.5" />
<line x1="652.70" y1="177.85" x2="656.60" y2="177.85" stroke="#333333" stroke-width="1.5" />
<line x1="652.70" y1="137.60" x2="656.60" y2="137.60" stroke="#333333" stroke-width="1.5" />
<line x1="652.70" y1="97.35" x2="656.60" y2="97.35" stroke="#333333" stroke-width="1.5" />
<line x1="652.70" y1="57.10" x2="656.60" y2="57.10" stroke="#333333" stroke-width="1.5" />
<line x1="652.70" y1="16.85" x2="656.60" y2="16.85" stroke="#333333" stroke-width="1.5" />
<line x1="659.50" y1="226.00" x2="659.50" y2="229.90" stroke="#333333" stroke-width="1.5" />
<text x="660.00" y="244.30" font-size="12.1" fill="#4D4D4D" text-anchor="middle" font-weight="normal" >0</text>
<line x1="680.80" y1="226.00" x2="680.80" y2="229.90" stroke="#333333" stroke-width="1.5" />
<text x="681.30" y="244.30" font-size="12.1" fill="#4D4D4D" text-anchor="middle" font-weight="normal" >10</text>
<line x1="702.10" y1="226.00" x2="702.10" y2="229.90" stroke="#333333" stroke-width="1.5" />
<text x="702.60" y="244.30" font-size="12.1" fill="#4D4D4D" text-anchor="middle" font-weight="normal" >20</text>
<line x1="723.40" y1="226.00" x2="723.40" y2="229.90" stroke="#333333" stroke-width="1.5" />
<text x="723.90" y="244.30" font-size="12.1" fill="#4D4D4D" text-anchor="middle" font-weight="normal" >30</text>
<text x="692.60" y="258.60" font-size="12.25" fill="#1a1a1a" text-anchor="middle" font-weight="normal" >count</text>
<rect x="413.50" y="236.10" width="238.30" height="86.40" fill="#FFFFFF" stroke="none" stroke-width="0" />
<line x1="445.45" y1="236.10" x2="445.45" y2="322.50" stroke="#F2F3F5" stroke-width="1.0" />
<line x1="487.95" y1="236.10" x2="487.95" y2="322.50" stroke="#F2F3F5" stroke-width="1.0" />
<line x1="530.45" y1="236.10" x2="530.45" y2="322.50" stroke="#F2F3F5" stroke-width="1.0" />
<line x1="572.95" y1="236.10" x2="572.95" y2="322.50" stroke="#F2F3F5" stroke-width="1.0" />
<line x1="615.45" y1="236.10" x2="615.45" y2="322.50" stroke="#F2F3F5" stroke-width="1.0" />
<line x1="413.50" y1="308.50" x2="651.80" y2="308.50" stroke="#F2F3F5" stroke-width="1.0" />
<line x1="413.50" y1="287.70" x2="651.80" y2="287.70" stroke="#F2F3F5" stroke-width="1.0" />
<line x1="413.50" y1="266.90" x2="651.80" y2="266.90" stroke="#F2F3F5" stroke-width="1.0" />
<line x1="413.50" y1="246.10" x2="651.80" y2="246.10" stroke="#F2F3F5" stroke-width="1.0" />
<line x1="424.20" y1="236.10" x2="424.20" y2="322.50" stroke="#E9EBEE" stroke-width="1.07" />
<line x1="466.70" y1="236.10" x2="466.70" y2="322.50" stroke="#E9EBEE" stroke-width="1.07" />
<line x1="509.20" y1="236.10" x2="509.20" y2="322.50" stroke="#E9EBEE" stroke-width="1.07" />
<line x1="551.70" y1="236.10" x2="551.70" y2="322.50" stroke="#E9EBEE" stroke-width="1.07" />
<line x1="594.20" y1="236.10" x2="594.20" y2="322.50" stroke="#E9EBEE" stroke-width="1.07" />
<line x1="636.70" y1="236.10" x2="636.70" y2="322.50" stroke="#E9EBEE" stroke-width="1.07" />
<line x1="413.50" y1="318.90" x2="651.80" y2="318.90" stroke="#E9EBEE" stroke-width="1.07" />
<line x1="413.50" y1="298.10" x2="651.80" y2="298.10" stroke="#E9EBEE" stroke-width="1.07" />
<line x1="413.50" y1="277.30" x2="651.80" y2="277.30" stroke="#E9EBEE" stroke-width="1.07" />
<line x1="413.50" y1="256.50" x2="651.80" y2="256.50" stroke="#E9EBEE" stroke-width="1.07" />
<line x1="426.00" y1="318.90" x2="639.00" y2="318.90" stroke="#555" stroke-width="0.9" />
<path d="M426.00,317.86h5.00v1.04h-5.00ZM456.00,317.86h4.50v1.04h-4.50ZM532.80,316.82h4.20v2.08h-4.20ZM537.00,317.86h4.00v1.04h-4.00ZM605.10,316.82h4.20v2.08h-4.20ZM613.60,317.86h4.10v1.04h-4.10ZM622.40,315.78h6.50v3.12h-6.50ZM630.80,298.10h4.00v20.80h-4.00ZM634.80,239.86h4.10v79.04h-4.10Z" fill="#595959"/>
<line x1="629.90" y1="236.10" x2="629.90" y2="322.50" stroke="#FF2B2B" stroke-width="1.75" />
<rect x="413.50" y="236.10" width="238.30" height="86.40" fill="none" stroke="#333333" stroke-width="1.07" />
<line x1="409.60" y1="318.90" x2="413.50" y2="318.90" stroke="#333333" stroke-width="1.5" />
<text x="406.60" y="323.00" font-size="12.1" fill="#4D4D4D" text-anchor="end" font-weight="normal" >0</text>
<line x1="409.60" y1="298.10" x2="413.50" y2="298.10" stroke="#333333" stroke-width="1.5" />
<text x="406.60" y="302.20" font-size="12.1" fill="#4D4D4D" text-anchor="end" font-weight="normal" >20</text>
<line x1="409.60" y1="277.30" x2="413.50" y2="277.30" stroke="#333333" stroke-width="1.5" />
<text x="406.60" y="281.40" font-size="12.1" fill="#4D4D4D" text-anchor="end" font-weight="normal" >40</text>
<line x1="409.60" y1="256.50" x2="413.50" y2="256.50" stroke="#333333" stroke-width="1.5" />
<text x="406.60" y="260.60" font-size="12.1" fill="#4D4D4D" text-anchor="end" font-weight="normal" >60</text>
<line x1="424.20" y1="322.50" x2="424.20" y2="326.40" stroke="#333333" stroke-width="1.5" />
<text x="424.70" y="340.80" font-size="12.1" fill="#4D4D4D" text-anchor="middle" font-weight="normal" >0.5</text>
<line x1="466.70" y1="322.50" x2="466.70" y2="326.40" stroke="#333333" stroke-width="1.5" />
<text x="467.20" y="340.80" font-size="12.1" fill="#4D4D4D" text-anchor="middle" font-weight="normal" >0.6</text>
<line x1="509.20" y1="322.50" x2="509.20" y2="326.40" stroke="#333333" stroke-width="1.5" />
<text x="509.70" y="340.80" font-size="12.1" fill="#4D4D4D" text-anchor="middle" font-weight="normal" >0.7</text>
<line x1="551.70" y1="322.50" x2="551.70" y2="326.40" stroke="#333333" stroke-width="1.5" />
<text x="552.20" y="340.80" font-size="12.1" fill="#4D4D4D" text-anchor="middle" font-weight="normal" >0.8</text>
<line x1="594.20" y1="322.50" x2="594.20" y2="326.40" stroke="#333333" stroke-width="1.5" />
<text x="594.70" y="340.80" font-size="12.1" fill="#4D4D4D" text-anchor="middle" font-weight="normal" >0.9</text>
<line x1="636.70" y1="322.50" x2="636.70" y2="326.40" stroke="#333333" stroke-width="1.5" />
<text x="637.20" y="340.80" font-size="12.1" fill="#4D4D4D" text-anchor="middle" font-weight="normal" >1.0</text>
<text transform="translate(383.2,281.3) rotate(-90)" x="0" y="0" font-size="12.2" fill="#1a1a1a" text-anchor="middle">count</text>
<text x="531.80" y="355.70" font-size="12.25" fill="#1a1a1a" text-anchor="middle" font-weight="normal" >R²</text>
<rect x="414.10" y="365.30" width="236.40" height="220.70" fill="#FFFFFF" stroke="none" stroke-width="0" />
<line x1="460.20" y1="365.30" x2="460.20" y2="586.00" stroke="#F2F3F5" stroke-width="1.0" />
<line x1="531.80" y1="365.30" x2="531.80" y2="586.00" stroke="#F2F3F5" stroke-width="1.0" />
<line x1="603.40" y1="365.30" x2="603.40" y2="586.00" stroke="#F2F3F5" stroke-width="1.0" />
<line x1="414.10" y1="542.68" x2="650.50" y2="542.68" stroke="#F2F3F5" stroke-width="1.0" />
<line x1="414.10" y1="475.63" x2="650.50" y2="475.63" stroke="#F2F3F5" stroke-width="1.0" />
<line x1="414.10" y1="408.58" x2="650.50" y2="408.58" stroke="#F2F3F5" stroke-width="1.0" />
<line x1="424.40" y1="365.30" x2="424.40" y2="586.00" stroke="#E9EBEE" stroke-width="1.07" />
<line x1="496.00" y1="365.30" x2="496.00" y2="586.00" stroke="#E9EBEE" stroke-width="1.07" />
<line x1="567.60" y1="365.30" x2="567.60" y2="586.00" stroke="#E9EBEE" stroke-width="1.07" />
<line x1="639.20" y1="365.30" x2="639.20" y2="586.00" stroke="#E9EBEE" stroke-width="1.07" />
<line x1="414.10" y1="576.20" x2="650.50" y2="576.20" stroke="#E9EBEE" stroke-width="1.07" />
<line x1="414.10" y1="509.15" x2="650.50" y2="509.15" stroke="#E9EBEE" stroke-width="1.07" />
<line x1="414.10" y1="442.10" x2="650.50" y2="442.10" stroke="#E9EBEE" stroke-width="1.07" />
<line x1="414.10" y1="375.05" x2="650.50" y2="375.05" stroke="#E9EBEE" stroke-width="1.07" />
<circle cx="449.39" cy="575.43" r="2.6" fill="#1c1c1c"/>
<circle cx="449.60" cy="575.00" r="2.6" fill="#1c1c1c"/>
<circle cx="451.10" cy="575.46" r="2.6" fill="#1c1c1c"/>
<circle cx="451.20" cy="574.76" r="2.6" fill="#1c1c1c"/>
<circle cx="452.90" cy="575.14" r="2.6" fill="#1c1c1c"/>
<circle cx="452.80" cy="574.48" r="2.6" fill="#1c1c1c"/>
<circle cx="454.01" cy="575.60" r="2.6" fill="#1c1c1c"/>
<circle cx="454.40" cy="574.19" r="2.6" fill="#1c1c1c"/>
<circle cx="455.81" cy="575.24" r="2.6" fill="#1c1c1c"/>
<circle cx="456.40" cy="573.58" r="2.6" fill="#1c1c1c"/>
<circle cx="456.00" cy="573.20" r="2.6" fill="#1c1c1c"/>
<circle cx="457.87" cy="575.39" r="2.6" fill="#1c1c1c"/>
<circle cx="457.71" cy="573.39" r="2.6" fill="#1c1c1c"/>
<circle cx="457.60" cy="571.89" r="2.6" fill="#1c1c1c"/>
<circle cx="459.31" cy="575.62" r="2.6" fill="#1c1c1c"/>
<circle cx="459.22" cy="573.74" r="2.6" fill="#1c1c1c"/>
<circle cx="459.34" cy="571.54" r="2.6" fill="#1c1c1c"/>
<circle cx="459.20" cy="571.02" r="2.6" fill="#1c1c1c"/>
<circle cx="461.01" cy="575.45" r="2.6" fill="#1c1c1c"/>
<circle cx="460.64" cy="573.32" r="2.6" fill="#1c1c1c"/>
<circle cx="461.09" cy="571.78" r="2.6" fill="#1c1c1c"/>
<circle cx="460.80" cy="570.66" r="2.6" fill="#1c1c1c"/>
<circle cx="462.58" cy="575.63" r="2.6" fill="#1c1c1c"/>
<circle cx="462.57" cy="573.85" r="2.6" fill="#1c1c1c"/>
<circle cx="462.32" cy="571.98" r="2.6" fill="#1c1c1c"/>
<circle cx="462.40" cy="570.84" r="2.6" fill="#1c1c1c"/>
<circle cx="463.96" cy="575.66" r="2.6" fill="#1c1c1c"/>
<circle cx="464.30" cy="573.36" r="2.6" fill="#1c1c1c"/>
<circle cx="463.71" cy="571.63" r="2.6" fill="#1c1c1c"/>
<circle cx="464.00" cy="571.02" r="2.6" fill="#1c1c1c"/>
<circle cx="465.97" cy="575.36" r="2.6" fill="#1c1c1c"/>
<circle cx="465.70" cy="573.48" r="2.6" fill="#1c1c1c"/>
<circle cx="465.61" cy="571.73" r="2.6" fill="#1c1c1c"/>
<circle cx="465.60" cy="570.30" r="2.6" fill="#1c1c1c"/>
<circle cx="467.08" cy="575.45" r="2.6" fill="#1c1c1c"/>
<circle cx="467.27" cy="573.84" r="2.6" fill="#1c1c1c"/>
<circle cx="467.35" cy="572.06" r="2.6" fill="#1c1c1c"/>
<circle cx="467.49" cy="570.29" r="2.6" fill="#1c1c1c"/>
<circle cx="467.20" cy="568.88" r="2.6" fill="#1c1c1c"/>
<circle cx="468.94" cy="575.20" r="2.6" fill="#1c1c1c"/>
<circle cx="469.09" cy="573.88" r="2.6" fill="#1c1c1c"/>
<circle cx="469.12" cy="571.84" r="2.6" fill="#1c1c1c"/>
<circle cx="468.97" cy="569.83" r="2.6" fill="#1c1c1c"/>
<circle cx="468.80" cy="568.51" r="2.6" fill="#1c1c1c"/>
<circle cx="470.67" cy="575.44" r="2.6" fill="#1c1c1c"/>
<circle cx="470.23" cy="573.34" r="2.6" fill="#1c1c1c"/>
<circle cx="470.68" cy="572.09" r="2.6" fill="#1c1c1c"/>
<circle cx="470.07" cy="570.18" r="2.6" fill="#1c1c1c"/>
<circle cx="470.40" cy="568.30" r="2.6" fill="#1c1c1c"/>
<circle cx="471.93" cy="575.19" r="2.6" fill="#1c1c1c"/>
<circle cx="471.84" cy="573.76" r="2.6" fill="#1c1c1c"/>
<circle cx="472.30" cy="571.53" r="2.6" fill="#1c1c1c"/>
<circle cx="472.09" cy="569.73" r="2.6" fill="#1c1c1c"/>
<circle cx="472.17" cy="568.10" r="2.6" fill="#1c1c1c"/>
<circle cx="472.00" cy="568.09" r="2.6" fill="#1c1c1c"/>
<circle cx="473.90" cy="575.69" r="2.6" fill="#1c1c1c"/>
<circle cx="473.60" cy="573.90" r="2.6" fill="#1c1c1c"/>
<circle cx="473.45" cy="571.55" r="2.6" fill="#1c1c1c"/>
<circle cx="473.68" cy="569.72" r="2.6" fill="#1c1c1c"/>
<circle cx="473.36" cy="568.14" r="2.6" fill="#1c1c1c"/>
<circle cx="473.60" cy="567.98" r="2.6" fill="#1c1c1c"/>
<circle cx="475.29" cy="575.19" r="2.6" fill="#1c1c1c"/>
<circle cx="474.83" cy="573.82" r="2.6" fill="#1c1c1c"/>
<circle cx="475.05" cy="572.08" r="2.6" fill="#1c1c1c"/>
<circle cx="475.52" cy="569.93" r="2.6" fill="#1c1c1c"/>
<circle cx="475.20" cy="568.61" r="2.6" fill="#1c1c1c"/>
<circle cx="476.77" cy="575.41" r="2.6" fill="#1c1c1c"/>
<circle cx="476.92" cy="573.66" r="2.6" fill="#1c1c1c"/>
<circle cx="476.85" cy="571.87" r="2.6" fill="#1c1c1c"/>
<circle cx="477.15" cy="570.00" r="2.6" fill="#1c1c1c"/>
<circle cx="476.80" cy="569.12" r="2.6" fill="#1c1c1c"/>
<circle cx="478.34" cy="575.53" r="2.6" fill="#1c1c1c"/>
<circle cx="478.19" cy="573.48" r="2.6" fill="#1c1c1c"/>
<circle cx="478.78" cy="571.81" r="2.6" fill="#1c1c1c"/>
<circle cx="478.44" cy="569.71" r="2.6" fill="#1c1c1c"/>
<circle cx="478.33" cy="568.25" r="2.6" fill="#1c1c1c"/>
<circle cx="478.40" cy="567.86" r="2.6" fill="#1c1c1c"/>
<circle cx="479.62" cy="575.47" r="2.6" fill="#1c1c1c"/>
<circle cx="480.11" cy="573.34" r="2.6" fill="#1c1c1c"/>
<circle cx="480.10" cy="571.78" r="2.6" fill="#1c1c1c"/>
<circle cx="480.14" cy="569.91" r="2.6" fill="#1c1c1c"/>
<circle cx="480.17" cy="568.34" r="2.6" fill="#1c1c1c"/>
<circle cx="480.00" cy="566.60" r="2.6" fill="#1c1c1c"/>
<circle cx="481.22" cy="575.14" r="2.6" fill="#1c1c1c"/>
<circle cx="481.74" cy="573.88" r="2.6" fill="#1c1c1c"/>
<circle cx="481.40" cy="571.77" r="2.6" fill="#1c1c1c"/>
<circle cx="481.67" cy="569.89" r="2.6" fill="#1c1c1c"/>
<circle cx="481.49" cy="568.09" r="2.6" fill="#1c1c1c"/>
<circle cx="481.50" cy="566.46" r="2.6" fill="#1c1c1c"/>
<circle cx="481.60" cy="565.75" r="2.6" fill="#1c1c1c"/>
<circle cx="483.04" cy="575.33" r="2.6" fill="#1c1c1c"/>
<circle cx="483.42" cy="573.32" r="2.6" fill="#1c1c1c"/>
<circle cx="483.26" cy="571.94" r="2.6" fill="#1c1c1c"/>
<circle cx="483.05" cy="569.83" r="2.6" fill="#1c1c1c"/>
<circle cx="483.44" cy="568.04" r="2.6" fill="#1c1c1c"/>
<circle cx="482.95" cy="566.36" r="2.6" fill="#1c1c1c"/>
<circle cx="483.20" cy="564.91" r="2.6" fill="#1c1c1c"/>
<circle cx="484.96" cy="575.16" r="2.6" fill="#1c1c1c"/>
<circle cx="484.66" cy="573.50" r="2.6" fill="#1c1c1c"/>
<circle cx="485.07" cy="571.76" r="2.6" fill="#1c1c1c"/>
<circle cx="485.08" cy="569.80" r="2.6" fill="#1c1c1c"/>
<circle cx="484.67" cy="568.29" r="2.6" fill="#1c1c1c"/>
<circle cx="485.11" cy="566.37" r="2.6" fill="#1c1c1c"/>
<circle cx="484.80" cy="564.88" r="2.6" fill="#1c1c1c"/>
<circle cx="486.18" cy="575.17" r="2.6" fill="#1c1c1c"/>
<circle cx="486.42" cy="573.41" r="2.6" fill="#1c1c1c"/>
<circle cx="486.65" cy="572.00" r="2.6" fill="#1c1c1c"/>
<circle cx="486.15" cy="569.87" r="2.6" fill="#1c1c1c"/>
<circle cx="486.65" cy="568.29" r="2.6" fill="#1c1c1c"/>
<circle cx="486.65" cy="566.31" r="2.6" fill="#1c1c1c"/>
<circle cx="486.40" cy="564.97" r="2.6" fill="#1c1c1c"/>
<circle cx="487.70" cy="575.28" r="2.6" fill="#1c1c1c"/>
<circle cx="488.24" cy="573.46" r="2.6" fill="#1c1c1c"/>
<circle cx="487.88" cy="571.75" r="2.6" fill="#1c1c1c"/>
<circle cx="487.94" cy="569.95" r="2.6" fill="#1c1c1c"/>
<circle cx="488.34" cy="567.99" r="2.6" fill="#1c1c1c"/>
<circle cx="487.60" cy="566.67" r="2.6" fill="#1c1c1c"/>
<circle cx="488.00" cy="565.06" r="2.6" fill="#1c1c1c"/>
<circle cx="489.90" cy="575.69" r="2.6" fill="#1c1c1c"/>
<circle cx="489.55" cy="573.87" r="2.6" fill="#1c1c1c"/>
<circle cx="489.94" cy="571.63" r="2.6" fill="#1c1c1c"/>
<circle cx="489.80" cy="570.20" r="2.6" fill="#1c1c1c"/>
<circle cx="489.73" cy="568.21" r="2.6" fill="#1c1c1c"/>
<circle cx="489.43" cy="566.30" r="2.6" fill="#1c1c1c"/>
<circle cx="489.60" cy="565.45" r="2.6" fill="#1c1c1c"/>
<circle cx="490.98" cy="575.14" r="2.6" fill="#1c1c1c"/>
<circle cx="491.27" cy="573.47" r="2.6" fill="#1c1c1c"/>
<circle cx="491.45" cy="571.53" r="2.6" fill="#1c1c1c"/>
<circle cx="491.52" cy="570.12" r="2.6" fill="#1c1c1c"/>
<circle cx="491.54" cy="568.44" r="2.6" fill="#1c1c1c"/>
<circle cx="491.52" cy="566.45" r="2.6" fill="#1c1c1c"/>
<circle cx="491.20" cy="566.15" r="2.6" fill="#1c1c1c"/>
<circle cx="492.41" cy="575.55" r="2.6" fill="#1c1c1c"/>
<circle cx="492.54" cy="573.48" r="2.6" fill="#1c1c1c"/>
<circle cx="492.93" cy="571.81" r="2.6" fill="#1c1c1c"/>
<circle cx="492.73" cy="570.26" r="2.6" fill="#1c1c1c"/>
<circle cx="492.89" cy="568.10" r="2.6" fill="#1c1c1c"/>
<circle cx="492.80" cy="566.82" r="2.6" fill="#1c1c1c"/>
<circle cx="494.20" cy="575.62" r="2.6" fill="#1c1c1c"/>
<circle cx="494.38" cy="573.77" r="2.6" fill="#1c1c1c"/>
<circle cx="494.28" cy="571.62" r="2.6" fill="#1c1c1c"/>
<circle cx="494.43" cy="570.19" r="2.6" fill="#1c1c1c"/>
<circle cx="494.14" cy="568.38" r="2.6" fill="#1c1c1c"/>
<circle cx="494.40" cy="567.08" r="2.6" fill="#1c1c1c"/>
<circle cx="496.34" cy="575.58" r="2.6" fill="#1c1c1c"/>
<circle cx="496.26" cy="573.30" r="2.6" fill="#1c1c1c"/>
<circle cx="496.10" cy="572.02" r="2.6" fill="#1c1c1c"/>
<circle cx="495.64" cy="569.86" r="2.6" fill="#1c1c1c"/>
<circle cx="495.81" cy="568.22" r="2.6" fill="#1c1c1c"/>
<circle cx="496.00" cy="567.34" r="2.6" fill="#1c1c1c"/>
<circle cx="497.54" cy="575.38" r="2.6" fill="#1c1c1c"/>
<circle cx="497.82" cy="573.30" r="2.6" fill="#1c1c1c"/>
<circle cx="497.24" cy="571.58" r="2.6" fill="#1c1c1c"/>
<circle cx="497.30" cy="569.74" r="2.6" fill="#1c1c1c"/>
<circle cx="497.98" cy="568.41" r="2.6" fill="#1c1c1c"/>
<circle cx="497.60" cy="567.59" r="2.6" fill="#1c1c1c"/>
<circle cx="498.87" cy="575.40" r="2.6" fill="#1c1c1c"/>
<circle cx="499.05" cy="573.49" r="2.6" fill="#1c1c1c"/>
<circle cx="499.08" cy="571.89" r="2.6" fill="#1c1c1c"/>
<circle cx="499.27" cy="569.92" r="2.6" fill="#1c1c1c"/>
<circle cx="498.95" cy="568.10" r="2.6" fill="#1c1c1c"/>
<circle cx="499.20" cy="567.83" r="2.6" fill="#1c1c1c"/>
<circle cx="500.50" cy="575.43" r="2.6" fill="#1c1c1c"/>
<circle cx="500.97" cy="573.53" r="2.6" fill="#1c1c1c"/>
<circle cx="500.46" cy="571.61" r="2.6" fill="#1c1c1c"/>
<circle cx="500.70" cy="570.06" r="2.6" fill="#1c1c1c"/>
<circle cx="501.03" cy="568.13" r="2.6" fill="#1c1c1c"/>
<circle cx="500.80" cy="568.07" r="2.6" fill="#1c1c1c"/>
<circle cx="494.50" cy="553.50" r="2.6" fill="#1c1c1c"/>
<circle cx="505.50" cy="552.30" r="2.6" fill="#1c1c1c"/>
<circle cx="500.60" cy="556.30" r="2.6" fill="#1c1c1c"/>
<circle cx="498.10" cy="561.80" r="2.6" fill="#1c1c1c"/>
<circle cx="511.60" cy="562.40" r="2.6" fill="#1c1c1c"/>
<circle cx="523.50" cy="561.80" r="2.6" fill="#1c1c1c"/>
<circle cx="533.30" cy="559.40" r="2.6" fill="#1c1c1c"/>
<circle cx="533.60" cy="565.10" r="2.6" fill="#1c1c1c"/>
<circle cx="531.50" cy="571.90" r="2.6" fill="#1c1c1c"/>
<circle cx="543.40" cy="564.90" r="2.6" fill="#1c1c1c"/>
<circle cx="543.40" cy="569.10" r="2.6" fill="#1c1c1c"/>
<circle cx="553.30" cy="560.80" r="2.6" fill="#1c1c1c"/>
<circle cx="559.50" cy="567.60" r="2.6" fill="#1c1c1c"/>
<circle cx="561.20" cy="571.60" r="2.6" fill="#1c1c1c"/>
<circle cx="556.00" cy="575.00" r="2.6" fill="#1c1c1c"/>
<circle cx="601.30" cy="554.30" r="2.6" fill="#1c1c1c"/>
<circle cx="605.10" cy="555.00" r="2.6" fill="#1c1c1c"/>
<circle cx="625.60" cy="525.40" r="2.6" fill="#1c1c1c"/>
<circle cx="502.70" cy="568.90" r="2.6" fill="#1c1c1c"/>
<circle cx="501.50" cy="575.60" r="2.6" fill="#1c1c1c"/>
<line x1="414.10" y1="442.10" x2="650.50" y2="442.10" stroke="#FF2B2B" stroke-width="1.75" />
<line x1="567.60" y1="365.30" x2="567.60" y2="586.00" stroke="#FF2B2B" stroke-width="1.75" />
<rect x="414.10" y="365.30" width="236.40" height="220.70" fill="none" stroke="#333333" stroke-width="1.07" />
<line x1="410.20" y1="576.20" x2="414.10" y2="576.20" stroke="#333333" stroke-width="1.5" />
<text x="407.40" y="580.90" font-size="12.1" fill="#4D4D4D" text-anchor="end" font-weight="normal" >0</text>
<line x1="410.20" y1="509.15" x2="414.10" y2="509.15" stroke="#333333" stroke-width="1.5" />
<text x="407.40" y="513.85" font-size="12.1" fill="#4D4D4D" text-anchor="end" font-weight="normal" >10</text>
<line x1="410.20" y1="442.10" x2="414.10" y2="442.10" stroke="#333333" stroke-width="1.5" />
<text x="407.40" y="446.80" font-size="12.1" fill="#4D4D4D" text-anchor="end" font-weight="normal" >20</text>
<line x1="410.20" y1="375.05" x2="414.10" y2="375.05" stroke="#333333" stroke-width="1.5" />
<text x="407.40" y="379.75" font-size="12.1" fill="#4D4D4D" text-anchor="end" font-weight="normal" >30</text>
<line x1="424.40" y1="586.00" x2="424.40" y2="589.90" stroke="#333333" stroke-width="1.5" />
<line x1="496.00" y1="586.00" x2="496.00" y2="589.90" stroke="#333333" stroke-width="1.5" />
<line x1="567.60" y1="586.00" x2="567.60" y2="589.90" stroke="#333333" stroke-width="1.5" />
<line x1="639.20" y1="586.00" x2="639.20" y2="589.90" stroke="#333333" stroke-width="1.5" />
<text transform="translate(388.4,486.3) rotate(-90)" x="0" y="0" font-size="12.3" fill="#1a1a1a" text-anchor="middle">Inter−batch CV (%)</text>
<rect x="657.10" y="365.10" width="75.20" height="220.20" fill="#FFFFFF" stroke="none" stroke-width="0" />
<line x1="667.13" y1="365.10" x2="667.13" y2="585.30" stroke="#F2F3F5" stroke-width="1.0" />
<line x1="680.79" y1="365.10" x2="680.79" y2="585.30" stroke="#F2F3F5" stroke-width="1.0" />
<line x1="694.45" y1="365.10" x2="694.45" y2="585.30" stroke="#F2F3F5" stroke-width="1.0" />
<line x1="708.11" y1="365.10" x2="708.11" y2="585.30" stroke="#F2F3F5" stroke-width="1.0" />
<line x1="721.77" y1="365.10" x2="721.77" y2="585.30" stroke="#F2F3F5" stroke-width="1.0" />
<line x1="657.10" y1="542.35" x2="732.30" y2="542.35" stroke="#F2F3F5" stroke-width="1.0" />
<line x1="657.10" y1="475.05" x2="732.30" y2="475.05" stroke="#F2F3F5" stroke-width="1.0" />
<line x1="657.10" y1="407.75" x2="732.30" y2="407.75" stroke="#F2F3F5" stroke-width="1.0" />
<line x1="660.30" y1="365.10" x2="660.30" y2="585.30" stroke="#E9EBEE" stroke-width="1.07" />
<line x1="673.96" y1="365.10" x2="673.96" y2="585.30" stroke="#E9EBEE" stroke-width="1.07" />
<line x1="687.62" y1="365.10" x2="687.62" y2="585.30" stroke="#E9EBEE" stroke-width="1.07" />
<line x1="701.28" y1="365.10" x2="701.28" y2="585.30" stroke="#E9EBEE" stroke-width="1.07" />
<line x1="714.94" y1="365.10" x2="714.94" y2="585.30" stroke="#E9EBEE" stroke-width="1.07" />
<line x1="728.60" y1="365.10" x2="728.60" y2="585.30" stroke="#E9EBEE" stroke-width="1.07" />
<line x1="657.10" y1="576.00" x2="732.30" y2="576.00" stroke="#E9EBEE" stroke-width="1.07" />
<line x1="657.10" y1="508.70" x2="732.30" y2="508.70" stroke="#E9EBEE" stroke-width="1.07" />
<line x1="657.10" y1="441.40" x2="732.30" y2="441.40" stroke="#E9EBEE" stroke-width="1.07" />
<line x1="657.10" y1="374.10" x2="732.30" y2="374.10" stroke="#E9EBEE" stroke-width="1.07" />
<line x1="660.30" y1="377.50" x2="660.30" y2="572.40" stroke="#555" stroke-width="0.9" />
<path d="M660.30,519.10h1.37v6.70h-1.37ZM660.30,545.80h1.37v6.60h-1.37ZM660.30,552.40h5.46v6.70h-5.46ZM660.30,559.10h14.62v6.60h-14.62ZM660.30,565.70h66.93v6.70h-66.93Z" fill="#595959"/>
<line x1="657.10" y1="442.10" x2="732.30" y2="442.10" stroke="#FF2B2B" stroke-width="1.75" />
<rect x="657.10" y="365.10" width="75.20" height="220.20" fill="none" stroke="#333333" stroke-width="1.07" />
<line x1="653.20" y1="576.00" x2="657.10" y2="576.00" stroke="#333333" stroke-width="1.5" />
<line x1="653.20" y1="508.70" x2="657.10" y2="508.70" stroke="#333333" stroke-width="1.5" />
<line x1="653.20" y1="441.40" x2="657.10" y2="441.40" stroke="#333333" stroke-width="1.5" />
<line x1="653.20" y1="374.10" x2="657.10" y2="374.10" stroke="#333333" stroke-width="1.5" />
<line x1="660.30" y1="585.30" x2="660.30" y2="589.20" stroke="#333333" stroke-width="1.5" />
<text x="660.80" y="601.00" font-size="12.1" fill="#4D4D4D" text-anchor="middle" font-weight="normal" >0</text>
<line x1="687.62" y1="585.30" x2="687.62" y2="589.20" stroke="#333333" stroke-width="1.5" />
<text x="688.12" y="601.00" font-size="12.1" fill="#4D4D4D" text-anchor="middle" font-weight="normal" >20</text>
<line x1="714.94" y1="585.30" x2="714.94" y2="589.20" stroke="#333333" stroke-width="1.5" />
<text x="715.44" y="601.00" font-size="12.1" fill="#4D4D4D" text-anchor="middle" font-weight="normal" >40</text>
<text x="695.50" y="615.60" font-size="13.3" fill="#1a1a1a" text-anchor="middle" font-weight="normal" >count</text>
<rect x="413.80" y="596.00" width="236.80" height="86.80" fill="#FFFFFF" stroke="none" stroke-width="0" />
<line x1="460.07" y1="596.00" x2="460.07" y2="682.80" stroke="#F2F3F5" stroke-width="1.0" />
<line x1="531.62" y1="596.00" x2="531.62" y2="682.80" stroke="#F2F3F5" stroke-width="1.0" />
<line x1="603.17" y1="596.00" x2="603.17" y2="682.80" stroke="#F2F3F5" stroke-width="1.0" />
<line x1="413.80" y1="669.58" x2="650.60" y2="669.58" stroke="#F2F3F5" stroke-width="1.0" />
<line x1="413.80" y1="650.83" x2="650.60" y2="650.83" stroke="#F2F3F5" stroke-width="1.0" />
<line x1="413.80" y1="632.08" x2="650.60" y2="632.08" stroke="#F2F3F5" stroke-width="1.0" />
<line x1="413.80" y1="613.33" x2="650.60" y2="613.33" stroke="#F2F3F5" stroke-width="1.0" />
<line x1="424.30" y1="596.00" x2="424.30" y2="682.80" stroke="#E9EBEE" stroke-width="1.07" />
<line x1="495.85" y1="596.00" x2="495.85" y2="682.80" stroke="#E9EBEE" stroke-width="1.07" />
<line x1="567.40" y1="596.00" x2="567.40" y2="682.80" stroke="#E9EBEE" stroke-width="1.07" />
<line x1="638.95" y1="596.00" x2="638.95" y2="682.80" stroke="#E9EBEE" stroke-width="1.07" />
<line x1="413.80" y1="678.95" x2="650.60" y2="678.95" stroke="#E9EBEE" stroke-width="1.07" />
<line x1="413.80" y1="660.20" x2="650.60" y2="660.20" stroke="#E9EBEE" stroke-width="1.07" />
<line x1="413.80" y1="641.45" x2="650.60" y2="641.45" stroke="#E9EBEE" stroke-width="1.07" />
<line x1="413.80" y1="622.70" x2="650.60" y2="622.70" stroke="#E9EBEE" stroke-width="1.07" />
<line x1="413.80" y1="603.95" x2="650.60" y2="603.95" stroke="#E9EBEE" stroke-width="1.07" />
<line x1="428.80" y1="678.95" x2="636.70" y2="678.95" stroke="#555" stroke-width="0.9" />
<path d="M441.90,675.20h7.40v3.75h-7.40ZM449.30,637.70h7.10v41.25h-7.10ZM456.40,626.45h7.40v52.50h-7.40ZM463.80,600.20h7.10v78.75h-7.10ZM470.90,611.45h14.40v67.50h-14.40ZM485.30,630.20h7.40v48.75h-7.40ZM492.70,641.45h7.10v37.50h-7.10ZM499.80,656.45h7.10v22.50h-7.10ZM506.90,675.20h7.40v3.75h-7.40ZM520.80,675.20h7.20v3.75h-7.20ZM528.00,667.70h7.60v11.25h-7.60ZM535.60,675.20h7.30v3.75h-7.30ZM542.90,671.45h21.90v7.50h-21.90ZM564.80,675.20h7.10v3.75h-7.10ZM600.10,671.45h7.60v7.50h-7.60ZM622.00,675.20h7.30v3.75h-7.30Z" fill="#595959"/>
<line x1="567.40" y1="596.00" x2="567.40" y2="682.80" stroke="#FF2B2B" stroke-width="1.75" />
<rect x="413.80" y="596.00" width="236.80" height="86.80" fill="none" stroke="#333333" stroke-width="1.07" />
<line x1="409.90" y1="678.95" x2="413.80" y2="678.95" stroke="#333333" stroke-width="1.5" />
<text x="407.20" y="683.05" font-size="12.1" fill="#4D4D4D" text-anchor="end" font-weight="normal" >0</text>
<line x1="409.90" y1="660.20" x2="413.80" y2="660.20" stroke="#333333" stroke-width="1.5" />
<text x="407.20" y="664.30" font-size="12.1" fill="#4D4D4D" text-anchor="end" font-weight="normal" >5</text>
<line x1="409.90" y1="641.45" x2="413.80" y2="641.45" stroke="#333333" stroke-width="1.5" />
<text x="407.20" y="645.55" font-size="12.1" fill="#4D4D4D" text-anchor="end" font-weight="normal" >10</text>
<line x1="409.90" y1="622.70" x2="413.80" y2="622.70" stroke="#333333" stroke-width="1.5" />
<text x="407.20" y="626.80" font-size="12.1" fill="#4D4D4D" text-anchor="end" font-weight="normal" >15</text>
<line x1="409.90" y1="603.95" x2="413.80" y2="603.95" stroke="#333333" stroke-width="1.5" />
<text x="407.20" y="608.05" font-size="12.1" fill="#4D4D4D" text-anchor="end" font-weight="normal" >20</text>
<line x1="424.30" y1="682.80" x2="424.30" y2="686.70" stroke="#333333" stroke-width="1.5" />
<text x="424.80" y="698.60" font-size="12.1" fill="#4D4D4D" text-anchor="middle" font-weight="normal" >0</text>
<line x1="495.85" y1="682.80" x2="495.85" y2="686.70" stroke="#333333" stroke-width="1.5" />
<text x="496.35" y="698.60" font-size="12.1" fill="#4D4D4D" text-anchor="middle" font-weight="normal" >10</text>
<line x1="567.40" y1="682.80" x2="567.40" y2="686.70" stroke="#333333" stroke-width="1.5" />
<text x="567.90" y="698.60" font-size="12.1" fill="#4D4D4D" text-anchor="middle" font-weight="normal" >20</text>
<line x1="638.95" y1="682.80" x2="638.95" y2="686.70" stroke="#333333" stroke-width="1.5" />
<text x="639.45" y="698.60" font-size="12.1" fill="#4D4D4D" text-anchor="middle" font-weight="normal" >30</text>
<text transform="translate(387.0,641.2) rotate(-90)" x="0" y="0" font-size="12.1" fill="#1a1a1a" text-anchor="middle">count</text>
<text x="531.90" y="718.00" font-size="12.3" fill="#1a1a1a" text-anchor="middle" font-weight="normal" >Mean intra−plex CV (%)</text>
</svg>
</body></html>
